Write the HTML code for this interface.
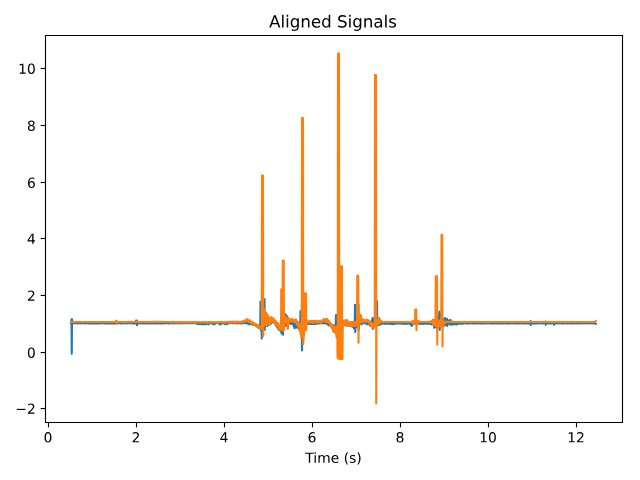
<!DOCTYPE html>
<html><head><meta charset="utf-8"><title>Aligned Signals</title>
<style>html,body{margin:0;padding:0;background:#fff;width:640px;height:480px;overflow:hidden;font-family:"Liberation Sans",sans-serif;}svg{display:block}</style>
</head><body>
<svg width="640" height="480" viewBox="0 0 460.8 345.6" version="1.1">
 <defs>
  <style type="text/css">*{stroke-linejoin: round; stroke-linecap: butt}</style>
 </defs>
 <g id="figure_1">
  <g id="patch_1">
   <path d="M 0 345.6 
L 460.8 345.6 
L 460.8 0 
L 0 0 
z
" style="fill: #ffffff"/>
  </g>
  <g id="axes_1">
   <g id="patch_2">
    <path d="M 32.76 304.2 
L 448.2 304.2 
L 448.2 25.56 
L 32.76 25.56 
z
" style="fill: #ffffff"/>
   </g>
   <g id="matplotlib.axis_1">
    <g id="xtick_1">
     <g id="line2d_1">
      <defs>
       <path id="me6ac03247e" d="M 0 0 
L 0 3.5 
" style="stroke: #000000; stroke-width: 0.8"/>
      </defs>
      <g>
       <use href="#me6ac03247e" x="34.92" y="304.2" style="stroke: #000000; stroke-width: 0.8"/>
      </g>
     </g>
     <g id="text_1">
      <!-- 0 -->
      <g transform="translate(31.3788 318.4984) scale(0.1 -0.1)">
       <defs>
        <path id="DejaVuSans-30" d="M 2034 4250 
Q 1547 4250 1301 3770 
Q 1056 3291 1056 2328 
Q 1056 1369 1301 889 
Q 1547 409 2034 409 
Q 2525 409 2770 889 
Q 3016 1369 3016 2328 
Q 3016 3291 2770 3770 
Q 2525 4250 2034 4250 
z
M 2034 4750 
Q 2819 4750 3233 4129 
Q 3647 3509 3647 2328 
Q 3647 1150 3233 529 
Q 2819 -91 2034 -91 
Q 1250 -91 836 529 
Q 422 1150 422 2328 
Q 422 3509 836 4129 
Q 1250 4750 2034 4750 
z
" transform="scale(0.015625)"/>
       </defs>
       <use href="#DejaVuSans-30"/>
      </g>
     </g>
    </g>
    <g id="xtick_2">
     <g id="line2d_2">
      <g>
       <use href="#me6ac03247e" x="98.28" y="304.2" style="stroke: #000000; stroke-width: 0.8"/>
      </g>
     </g>
     <g id="text_2">
      <!-- 2 -->
      <g transform="translate(94.7387 318.4984) scale(0.1 -0.1)">
       <defs>
        <path id="DejaVuSans-32" d="M 1228 531 
L 3431 531 
L 3431 0 
L 469 0 
L 469 531 
Q 828 903 1448 1529 
Q 2069 2156 2228 2338 
Q 2531 2678 2651 2914 
Q 2772 3150 2772 3378 
Q 2772 3750 2511 3984 
Q 2250 4219 1831 4219 
Q 1534 4219 1204 4116 
Q 875 4013 500 3803 
L 500 4441 
Q 881 4594 1212 4672 
Q 1544 4750 1819 4750 
Q 2544 4750 2975 4387 
Q 3406 4025 3406 3419 
Q 3406 3131 3298 2873 
Q 3191 2616 2906 2266 
Q 2828 2175 2409 1742 
Q 1991 1309 1228 531 
z
" transform="scale(0.015625)"/>
       </defs>
       <use href="#DejaVuSans-32"/>
      </g>
     </g>
    </g>
    <g id="xtick_3">
     <g id="line2d_3">
      <g>
       <use href="#me6ac03247e" x="161.64" y="304.2" style="stroke: #000000; stroke-width: 0.8"/>
      </g>
     </g>
     <g id="text_3">
      <!-- 4 -->
      <g transform="translate(158.0987 318.4984) scale(0.1 -0.1)">
       <defs>
        <path id="DejaVuSans-34" d="M 2419 4116 
L 825 1625 
L 2419 1625 
L 2419 4116 
z
M 2253 4666 
L 3047 4666 
L 3047 1625 
L 3713 1625 
L 3713 1100 
L 3047 1100 
L 3047 0 
L 2419 0 
L 2419 1100 
L 313 1100 
L 313 1709 
L 2253 4666 
z
" transform="scale(0.015625)"/>
       </defs>
       <use href="#DejaVuSans-34"/>
      </g>
     </g>
    </g>
    <g id="xtick_4">
     <g id="line2d_4">
      <g>
       <use href="#me6ac03247e" x="225" y="304.2" style="stroke: #000000; stroke-width: 0.8"/>
      </g>
     </g>
     <g id="text_4">
      <!-- 6 -->
      <g transform="translate(221.4587 318.4984) scale(0.1 -0.1)">
       <defs>
        <path id="DejaVuSans-36" d="M 2113 2584 
Q 1688 2584 1439 2293 
Q 1191 2003 1191 1497 
Q 1191 994 1439 701 
Q 1688 409 2113 409 
Q 2538 409 2786 701 
Q 3034 994 3034 1497 
Q 3034 2003 2786 2293 
Q 2538 2584 2113 2584 
z
M 3366 4563 
L 3366 3988 
Q 3128 4100 2886 4159 
Q 2644 4219 2406 4219 
Q 1781 4219 1451 3797 
Q 1122 3375 1075 2522 
Q 1259 2794 1537 2939 
Q 1816 3084 2150 3084 
Q 2853 3084 3261 2657 
Q 3669 2231 3669 1497 
Q 3669 778 3244 343 
Q 2819 -91 2113 -91 
Q 1303 -91 875 529 
Q 447 1150 447 2328 
Q 447 3434 972 4092 
Q 1497 4750 2381 4750 
Q 2619 4750 2861 4703 
Q 3103 4656 3366 4563 
z
" transform="scale(0.015625)"/>
       </defs>
       <use href="#DejaVuSans-36"/>
      </g>
     </g>
    </g>
    <g id="xtick_5">
     <g id="line2d_5">
      <g>
       <use href="#me6ac03247e" x="288.36" y="304.2" style="stroke: #000000; stroke-width: 0.8"/>
      </g>
     </g>
     <g id="text_5">
      <!-- 8 -->
      <g transform="translate(284.8187 318.4984) scale(0.1 -0.1)">
       <defs>
        <path id="DejaVuSans-38" d="M 2034 2216 
Q 1584 2216 1326 1975 
Q 1069 1734 1069 1313 
Q 1069 891 1326 650 
Q 1584 409 2034 409 
Q 2484 409 2743 651 
Q 3003 894 3003 1313 
Q 3003 1734 2745 1975 
Q 2488 2216 2034 2216 
z
M 1403 2484 
Q 997 2584 770 2862 
Q 544 3141 544 3541 
Q 544 4100 942 4425 
Q 1341 4750 2034 4750 
Q 2731 4750 3128 4425 
Q 3525 4100 3525 3541 
Q 3525 3141 3298 2862 
Q 3072 2584 2669 2484 
Q 3125 2378 3379 2068 
Q 3634 1759 3634 1313 
Q 3634 634 3220 271 
Q 2806 -91 2034 -91 
Q 1263 -91 848 271 
Q 434 634 434 1313 
Q 434 1759 690 2068 
Q 947 2378 1403 2484 
z
M 1172 3481 
Q 1172 3119 1398 2916 
Q 1625 2713 2034 2713 
Q 2441 2713 2670 2916 
Q 2900 3119 2900 3481 
Q 2900 3844 2670 4047 
Q 2441 4250 2034 4250 
Q 1625 4250 1398 4047 
Q 1172 3844 1172 3481 
z
" transform="scale(0.015625)"/>
       </defs>
       <use href="#DejaVuSans-38"/>
      </g>
     </g>
    </g>
    <g id="xtick_6">
     <g id="line2d_6">
      <g>
       <use href="#me6ac03247e" x="351.72" y="304.2" style="stroke: #000000; stroke-width: 0.8"/>
      </g>
     </g>
     <g id="text_6">
      <!-- 10 -->
      <g transform="translate(344.9975 318.4984) scale(0.1 -0.1)">
       <defs>
        <path id="DejaVuSans-31" d="M 794 531 
L 1825 531 
L 1825 4091 
L 703 3866 
L 703 4441 
L 1819 4666 
L 2450 4666 
L 2450 531 
L 3481 531 
L 3481 0 
L 794 0 
L 794 531 
z
" transform="scale(0.015625)"/>
       </defs>
       <use href="#DejaVuSans-31"/>
       <use href="#DejaVuSans-30" transform="translate(63.623047 0)"/>
      </g>
     </g>
    </g>
    <g id="xtick_7">
     <g id="line2d_7">
      <g>
       <use href="#me6ac03247e" x="415.08" y="304.2" style="stroke: #000000; stroke-width: 0.8"/>
      </g>
     </g>
     <g id="text_7">
      <!-- 12 -->
      <g transform="translate(408.3575 318.4984) scale(0.1 -0.1)">
       <use href="#DejaVuSans-31"/>
       <use href="#DejaVuSans-32" transform="translate(63.623047 0)"/>
      </g>
     </g>
    </g>
    <g id="text_8">
     <!-- Time (s) -->
     <g transform="translate(219.7911 333.1966) scale(0.1 -0.1)">
      <defs>
       <path id="DejaVuSans-54" d="M -19 4666 
L 3928 4666 
L 3928 4134 
L 2272 4134 
L 2272 0 
L 1638 0 
L 1638 4134 
L -19 4134 
L -19 4666 
z
" transform="scale(0.015625)"/>
       <path id="DejaVuSans-69" d="M 603 3500 
L 1178 3500 
L 1178 0 
L 603 0 
L 603 3500 
z
M 603 4863 
L 1178 4863 
L 1178 4134 
L 603 4134 
L 603 4863 
z
" transform="scale(0.015625)"/>
       <path id="DejaVuSans-6d" d="M 3328 2828 
Q 3544 3216 3844 3400 
Q 4144 3584 4550 3584 
Q 5097 3584 5394 3201 
Q 5691 2819 5691 2113 
L 5691 0 
L 5113 0 
L 5113 2094 
Q 5113 2597 4934 2840 
Q 4756 3084 4391 3084 
Q 3944 3084 3684 2787 
Q 3425 2491 3425 1978 
L 3425 0 
L 2847 0 
L 2847 2094 
Q 2847 2600 2669 2842 
Q 2491 3084 2119 3084 
Q 1678 3084 1418 2786 
Q 1159 2488 1159 1978 
L 1159 0 
L 581 0 
L 581 3500 
L 1159 3500 
L 1159 2956 
Q 1356 3278 1631 3431 
Q 1906 3584 2284 3584 
Q 2666 3584 2933 3390 
Q 3200 3197 3328 2828 
z
" transform="scale(0.015625)"/>
       <path id="DejaVuSans-65" d="M 3597 1894 
L 3597 1613 
L 953 1613 
Q 991 1019 1311 708 
Q 1631 397 2203 397 
Q 2534 397 2845 478 
Q 3156 559 3463 722 
L 3463 178 
Q 3153 47 2828 -22 
Q 2503 -91 2169 -91 
Q 1331 -91 842 396 
Q 353 884 353 1716 
Q 353 2575 817 3079 
Q 1281 3584 2069 3584 
Q 2775 3584 3186 3129 
Q 3597 2675 3597 1894 
z
M 3022 2063 
Q 3016 2534 2758 2815 
Q 2500 3097 2075 3097 
Q 1594 3097 1305 2825 
Q 1016 2553 972 2059 
L 3022 2063 
z
" transform="scale(0.015625)"/>
       <path id="DejaVuSans-20" transform="scale(0.015625)"/>
       <path id="DejaVuSans-28" d="M 1984 4856 
Q 1566 4138 1362 3434 
Q 1159 2731 1159 2009 
Q 1159 1288 1364 580 
Q 1569 -128 1984 -844 
L 1484 -844 
Q 1016 -109 783 600 
Q 550 1309 550 2009 
Q 550 2706 781 3412 
Q 1013 4119 1484 4856 
L 1984 4856 
z
" transform="scale(0.015625)"/>
       <path id="DejaVuSans-73" d="M 2834 3397 
L 2834 2853 
Q 2591 2978 2328 3040 
Q 2066 3103 1784 3103 
Q 1356 3103 1142 2972 
Q 928 2841 928 2578 
Q 928 2378 1081 2264 
Q 1234 2150 1697 2047 
L 1894 2003 
Q 2506 1872 2764 1633 
Q 3022 1394 3022 966 
Q 3022 478 2636 193 
Q 2250 -91 1575 -91 
Q 1294 -91 989 -36 
Q 684 19 347 128 
L 347 722 
Q 666 556 975 473 
Q 1284 391 1588 391 
Q 1994 391 2212 530 
Q 2431 669 2431 922 
Q 2431 1156 2273 1281 
Q 2116 1406 1581 1522 
L 1381 1569 
Q 847 1681 609 1914 
Q 372 2147 372 2553 
Q 372 3047 722 3315 
Q 1072 3584 1716 3584 
Q 2034 3584 2315 3537 
Q 2597 3491 2834 3397 
z
" transform="scale(0.015625)"/>
       <path id="DejaVuSans-29" d="M 513 4856 
L 1013 4856 
Q 1481 4119 1714 3412 
Q 1947 2706 1947 2009 
Q 1947 1309 1714 600 
Q 1481 -109 1013 -844 
L 513 -844 
Q 928 -128 1133 580 
Q 1338 1288 1338 2009 
Q 1338 2731 1133 3434 
Q 928 4138 513 4856 
z
" transform="scale(0.015625)"/>
      </defs>
      <use href="#DejaVuSans-54"/>
      <use href="#DejaVuSans-69" transform="translate(57.958984 0)"/>
      <use href="#DejaVuSans-6d" transform="translate(85.742188 0)"/>
      <use href="#DejaVuSans-65" transform="translate(183.154297 0)"/>
      <use href="#DejaVuSans-20" transform="translate(244.677734 0)"/>
      <use href="#DejaVuSans-28" transform="translate(276.464844 0)"/>
      <use href="#DejaVuSans-73" transform="translate(315.478516 0)"/>
      <use href="#DejaVuSans-29" transform="translate(367.578125 0)"/>
     </g>
    </g>
   </g>
   <g id="matplotlib.axis_2">
    <g id="ytick_1">
     <g id="line2d_8">
      <defs>
       <path id="m37b0a51731" d="M 0 0 
L -3.5 0 
" style="stroke: #000000; stroke-width: 0.8"/>
      </defs>
      <g>
       <use href="#m37b0a51731" x="32.76" y="294.1200" style="stroke: #000000; stroke-width: 0.8"/>
      </g>
     </g>
     <g id="text_9">
      <!-- −2 -->
      <g transform="translate(11.0178 297.9192) scale(0.1 -0.1)">
       <defs>
        <path id="DejaVuSans-2212" d="M 678 2272 
L 4684 2272 
L 4684 1741 
L 678 1741 
L 678 2272 
z
" transform="scale(0.015625)"/>
       </defs>
       <use href="#DejaVuSans-2212"/>
       <use href="#DejaVuSans-32" transform="translate(83.789062 0)"/>
      </g>
     </g>
    </g>
    <g id="ytick_2">
     <g id="line2d_9">
      <g>
       <use href="#m37b0a51731" x="32.76" y="253.8000" style="stroke: #000000; stroke-width: 0.8"/>
      </g>
     </g>
     <g id="text_10">
      <!-- 0 -->
      <g transform="translate(19.3975 257.5992) scale(0.1 -0.1)">
       <use href="#DejaVuSans-30"/>
      </g>
     </g>
    </g>
    <g id="ytick_3">
     <g id="line2d_10">
      <g>
       <use href="#m37b0a51731" x="32.76" y="212.7600" style="stroke: #000000; stroke-width: 0.8"/>
      </g>
     </g>
     <g id="text_11">
      <!-- 2 -->
      <g transform="translate(19.3975 216.5592) scale(0.1 -0.1)">
       <use href="#DejaVuSans-32"/>
      </g>
     </g>
    </g>
    <g id="ytick_4">
     <g id="line2d_11">
      <g>
       <use href="#m37b0a51731" x="32.76" y="171.7200" style="stroke: #000000; stroke-width: 0.8"/>
      </g>
     </g>
     <g id="text_12">
      <!-- 4 -->
      <g transform="translate(19.3975 175.5192) scale(0.1 -0.1)">
       <use href="#DejaVuSans-34"/>
      </g>
     </g>
    </g>
    <g id="ytick_5">
     <g id="line2d_12">
      <g>
       <use href="#m37b0a51731" x="32.76" y="131.4000" style="stroke: #000000; stroke-width: 0.8"/>
      </g>
     </g>
     <g id="text_13">
      <!-- 6 -->
      <g transform="translate(19.3975 135.1992) scale(0.1 -0.1)">
       <use href="#DejaVuSans-36"/>
      </g>
     </g>
    </g>
    <g id="ytick_6">
     <g id="line2d_13">
      <g>
       <use href="#m37b0a51731" x="32.76" y="90.3600" style="stroke: #000000; stroke-width: 0.8"/>
      </g>
     </g>
     <g id="text_14">
      <!-- 8 -->
      <g transform="translate(19.3975 94.1592) scale(0.1 -0.1)">
       <use href="#DejaVuSans-38"/>
      </g>
     </g>
    </g>
    <g id="ytick_7">
     <g id="line2d_14">
      <g>
       <use href="#m37b0a51731" x="32.76" y="49.3200" style="stroke: #000000; stroke-width: 0.8"/>
      </g>
     </g>
     <g id="text_15">
      <!-- 10 -->
      <g transform="translate(13.0350 53.1192) scale(0.1 -0.1)">
       <use href="#DejaVuSans-31"/>
       <use href="#DejaVuSans-30" transform="translate(63.623047 0)"/>
      </g>
     </g>
    </g>
   </g>
   <g id="line2d_15">
    <path d="M 51.12 232.640381 
L 51.3 232.573511 
L 51.48 229.896 
L 51.66 254.736 
L 51.84 229.896 
L 52.02 232.826805 
L 52.2 232.566003 
L 52.56 232.759369 
L 52.74 232.7798 
L 53.1 232.562121 
L 53.46 232.652375 
L 53.82 232.625025 
L 54 232.755545 
L 54.36 232.615957 
L 55.98 232.836926 
L 56.16 232.726422 
L 56.34 232.768476 
L 56.52 232.666455 
L 56.88 232.838746 
L 57.24 232.687936 
L 57.42 232.760177 
L 58.14 232.601571 
L 58.32 232.840297 
L 59.22 232.641026 
L 59.4 232.722125 
L 59.58 232.592882 
L 59.76 232.67255 
L 60.3 232.597608 
L 60.48 232.59762 
L 60.66 232.819791 
L 60.84 232.616359 
L 61.02 232.594926 
L 61.2 232.820752 
L 61.56 232.791112 
L 61.74 232.583 
L 63 232.690805 
L 63.36 232.589711 
L 63.72 232.809226 
L 64.08 232.636331 
L 64.26 232.818288 
L 64.62 232.748818 
L 64.8 232.853267 
L 65.16 232.597798 
L 65.34 232.785331 
L 65.52 232.654356 
L 65.7 232.817057 
L 66.42 232.568875 
L 66.6 232.87944 
L 66.78 232.569962 
L 66.96 232.577025 
L 67.32 232.868905 
L 67.5 232.738675 
L 67.68 232.887895 
L 67.86 232.796921 
L 68.58 232.882429 
L 68.76 232.669183 
L 68.94 232.79637 
L 69.12 232.729885 
L 69.3 232.887509 
L 69.84 232.571342 
L 70.02 232.805263 
L 70.2 232.564268 
L 70.38 232.778807 
L 70.56 232.649525 
L 70.92 232.895998 
L 71.1 232.678221 
L 71.46 232.749238 
L 71.64 232.615477 
L 71.82 232.811683 
L 72.18 232.823817 
L 72.54 232.583228 
L 72.72 232.6952 
L 72.9 232.600311 
L 73.08 232.655292 
L 73.26 232.565851 
L 73.44 232.698869 
L 74.34 232.711171 
L 74.52 232.787493 
L 74.7 232.672975 
L 75.06 232.840255 
L 75.24 232.743705 
L 75.42 232.884687 
L 75.78 232.755761 
L 75.96 232.58944 
L 76.14 232.725057 
L 76.32 232.572152 
L 76.5 232.89742 
L 76.68 232.576318 
L 77.04 232.624827 
L 77.22 232.865679 
L 77.76 232.864086 
L 77.94 232.652916 
L 78.12 232.879857 
L 78.3 232.596177 
L 78.48 232.670811 
L 78.66 232.86813 
L 78.84 232.808082 
L 79.2 232.865528 
L 79.38 232.635995 
L 79.56 232.710646 
L 79.74 232.916008 
L 79.92 232.813076 
L 80.1 232.845806 
L 80.28 232.589821 
L 80.46 232.903351 
L 80.82 232.615296 
L 81.18 232.88954 
L 81.36 232.756014 
L 81.54 232.917524 
L 81.72 232.893911 
L 81.9 232.738982 
L 82.08 232.90815 
L 82.8 232.569804 
L 83.16 232.831786 
L 83.34 232.607074 
L 83.52 232.632691 
L 83.7 232.910577 
L 84.06 232.676376 
L 84.24 232.89936 
L 84.6 232.651416 
L 85.68 232.783332 
L 86.58 232.593967 
L 86.76 232.811721 
L 86.94 232.565729 
L 87.12 232.824031 
L 87.84 232.902848 
L 88.02 232.697679 
L 88.38 232.66404 
L 88.56 232.56369 
L 88.92 232.739636 
L 89.1 232.727004 
L 89.28 232.573082 
L 89.82 232.707382 
L 90 232.63391 
L 90.36 232.66343 
L 90.54 232.599022 
L 90.72 232.875464 
L 90.9 232.778822 
L 91.08 232.914018 
L 91.26 232.777208 
L 92.7 232.798496 
L 93.06 232.592785 
L 93.6 232.730945 
L 93.96 232.654003 
L 94.32 232.757162 
L 94.5 232.592188 
L 95.04 232.861103 
L 95.22 232.745765 
L 95.4 232.901993 
L 95.94 232.608649 
L 96.12 232.741961 
L 96.3 232.572786 
L 96.48 232.800698 
L 96.66 232.677048 
L 96.84 232.876729 
L 97.2 232.384009 
L 97.38 232.638974 
L 97.56 232.2952 
L 97.74 232.845408 
L 97.92 230.76 
L 98.46 230.76 
L 98.64 234.216 
L 99 232.821979 
L 99.18 232.919368 
L 99.54 232.624488 
L 100.08 232.706065 
L 100.26 232.560509 
L 100.44 232.756191 
L 100.8 232.800248 
L 100.98 232.564367 
L 101.16 232.873601 
L 101.52 232.682373 
L 101.7 232.655832 
L 101.88 232.857078 
L 102.06 232.645934 
L 102.24 232.657917 
L 102.42 232.869861 
L 102.78 232.565348 
L 102.96 232.59119 
L 103.14 232.818098 
L 103.5 232.655096 
L 103.68 232.651132 
L 103.86 232.89439 
L 104.04 232.71846 
L 104.22 232.865464 
L 104.94 232.650567 
L 105.12 232.836588 
L 105.48 232.601277 
L 106.02 232.709979 
L 106.2 232.891242 
L 106.74 232.553003 
L 107.1 232.64163 
L 107.28 232.693426 
L 107.46 232.866093 
L 107.64 232.549658 
L 107.82 232.790668 
L 108.18 232.616941 
L 108.36 232.858659 
L 108.54 232.664906 
L 108.72 232.828157 
L 108.9 232.625027 
L 109.44 232.835539 
L 109.8 232.599417 
L 109.98 232.758312 
L 110.16 232.752639 
L 110.34 232.538432 
L 110.7 232.859444 
L 110.88 232.608308 
L 111.24 232.848311 
L 111.42 232.656294 
L 111.78 232.839127 
L 111.96 232.533224 
L 112.5 232.841017 
L 112.86 232.557086 
L 113.04 232.649373 
L 113.22 232.60928 
L 113.4 232.868788 
L 113.76 232.815786 
L 113.94 232.548175 
L 114.3 232.666387 
L 114.48 232.623139 
L 114.66 232.825317 
L 114.84 232.669588 
L 115.02 232.780314 
L 115.56 232.535059 
L 115.74 232.810819 
L 116.1 232.527469 
L 116.28 232.672634 
L 116.46 232.516203 
L 116.82 232.821885 
L 117 232.621912 
L 117.9 232.632232 
L 118.08 232.801082 
L 118.26 232.662254 
L 118.44 232.794559 
L 118.8 232.618294 
L 119.16 232.514861 
L 119.34 232.69571 
L 119.7 232.54123 
L 120.06 232.745781 
L 120.24 232.713459 
L 120.42 232.493 
L 120.78 232.726678 
L 121.14 232.641784 
L 121.32 232.767031 
L 121.5 232.53792 
L 121.68 232.543202 
L 122.04 232.811641 
L 122.22 232.538923 
L 122.4 232.500134 
L 122.58 232.772589 
L 123.12 232.493482 
L 123.3 232.674146 
L 123.48 232.530486 
L 123.66 232.798837 
L 124.2 232.826907 
L 124.56 232.514212 
L 124.74 232.702501 
L 124.92 232.558275 
L 125.1 232.720053 
L 125.28 232.495423 
L 125.82 232.804453 
L 126 232.49735 
L 126.36 232.805884 
L 126.54 232.483992 
L 126.9 232.732579 
L 127.08 232.63545 
L 127.26 232.769028 
L 127.62 232.571021 
L 127.8 232.46937 
L 128.16 232.811824 
L 128.34 232.787201 
L 128.52 232.457961 
L 128.88 232.477515 
L 129.06 232.765069 
L 129.42 232.553927 
L 129.6 232.721303 
L 129.78 232.574939 
L 130.14 232.703146 
L 130.32 232.772741 
L 130.5 232.51466 
L 130.86 232.521127 
L 131.04 232.7888 
L 131.22 232.649646 
L 131.4 232.743019 
L 131.58 232.515147 
L 131.76 232.75728 
L 131.94 232.55309 
L 132.12 232.668287 
L 132.3 232.52238 
L 132.66 232.714382 
L 132.84 232.506078 
L 133.02 232.788985 
L 134.46 232.557244 
L 134.64 232.712452 
L 134.82 232.497263 
L 135 232.461639 
L 135.18 232.7251 
L 135.36 232.769395 
L 135.72 232.509903 
L 135.9 232.750426 
L 136.08 232.451651 
L 136.62 232.692551 
L 136.8 232.702925 
L 136.98 232.601095 
L 137.16 232.680754 
L 137.34 232.536223 
L 137.52 232.737664 
L 138.78 232.448963 
L 138.96 232.751201 
L 139.5 232.718984 
L 139.68 232.731305 
L 139.86 232.546646 
L 140.04 232.65954 
L 140.22 232.464039 
L 140.4 232.433809 
L 140.58 232.69445 
L 140.76 232.49446 
L 141.48 232.696078 
L 141.66 232.613564 
L 141.84 232.707156 
L 142.02 232.50568 
L 142.2 233.496 
L 142.38 233.496 
L 142.56 232.63046 
L 142.74 232.537025 
L 142.92 232.771817 
L 143.1 232.614819 
L 143.46 232.683091 
L 143.64 233.496 
L 143.82 233.496 
L 144 232.488505 
L 144.18 232.579343 
L 144.54 232.490563 
L 144.9 232.704794 
L 145.08 233.496 
L 145.26 233.496 
L 145.44 232.487152 
L 145.8 232.419338 
L 145.98 232.548029 
L 146.16 233.496 
L 146.34 233.496 
L 146.52 232.463311 
L 146.7 232.641633 
L 146.88 232.616633 
L 147.06 232.745009 
L 147.24 233.496 
L 147.42 233.496 
L 147.6 232.612916 
L 147.96 232.430806 
L 148.14 232.614045 
L 148.32 233.496 
L 148.5 233.496 
L 148.68 232.41779 
L 149.4 232.665586 
L 149.58 232.512214 
L 149.76 232.726571 
L 149.94 232.462176 
L 150.12 233.496 
L 150.3 233.496 
L 150.48 232.442385 
L 150.66 232.6878 
L 150.84 232.446156 
L 151.02 232.473146 
L 151.38 232.712941 
L 151.56 232.638061 
L 151.74 232.774673 
L 151.92 232.771055 
L 152.1 232.469886 
L 152.46 232.584975 
L 152.64 232.483191 
L 153 232.729172 
L 153.18 232.682153 
L 153.36 233.496 
L 153.54 233.496 
L 153.72 232.619723 
L 153.9 232.479789 
L 154.26 232.750928 
L 154.44 233.496 
L 154.62 233.496 
L 154.8 232.681908 
L 154.98 232.737726 
L 155.16 232.449132 
L 155.34 232.687279 
L 155.52 232.738372 
L 155.7 232.491045 
L 156.6 232.622372 
L 157.14 232.527834 
L 157.68 232.770867 
L 157.86 232.553621 
L 158.04 233.496 
L 158.22 233.496 
L 158.4 232.759266 
L 158.76 232.66319 
L 158.94 232.550846 
L 159.12 233.496 
L 159.3 233.496 
L 159.48 232.651805 
L 160.02 232.699217 
L 160.2 232.456564 
L 160.38 232.602376 
L 160.92 232.583745 
L 161.1 232.633684 
L 161.46 232.419833 
L 161.64 233.496 
L 161.82 233.496 
L 162 232.568705 
L 162.72 232.707658 
L 162.9 232.470382 
L 163.08 232.640566 
L 163.26 232.604364 
L 163.44 233.496 
L 163.62 233.496 
L 163.8 232.709076 
L 163.98 232.67373 
L 164.16 232.472815 
L 164.52 232.737691 
L 164.7 232.604353 
L 165.42 232.73255 
L 165.6 232.507908 
L 166.32 232.536522 
L 166.5 232.601555 
L 166.68 232.481233 
L 167.04 232.603527 
L 167.22 232.532229 
L 167.4 232.723648 
L 167.58 232.610423 
L 168.3 232.669958 
L 168.48 232.4181 
L 168.66 232.672589 
L 169.02 232.515485 
L 169.2 232.66113 
L 169.38 232.487725 
L 169.56 232.717368 
L 169.74 232.735662 
L 169.92 232.473063 
L 170.1 232.479256 
L 170.28 232.803232 
L 170.46 232.428852 
L 170.64 232.753604 
L 171 232.716656 
L 171.18 232.430527 
L 171.36 232.82287 
L 171.54 232.495442 
L 171.72 232.784021 
L 172.08 232.522858 
L 172.44 232.356654 
L 172.62 232.453422 
L 172.98 232.322107 
L 173.34 232.796729 
L 173.52 232.553073 
L 173.88 232.781823 
L 174.06 232.297603 
L 174.24 232.475996 
L 174.6 232.361309 
L 174.78 232.618951 
L 175.14 232.298236 
L 175.32 232.761795 
L 175.5 232.271928 
L 175.68 232.230406 
L 175.86 232.669373 
L 176.04 232.469243 
L 176.22 232.617011 
L 176.4 232.219005 
L 176.94 232.421208 
L 177.12 232.561024 
L 177.48 232.362569 
L 177.66 232.876288 
L 177.84 232.295542 
L 178.02 232.612866 
L 178.2 232.453093 
L 178.38 232.954379 
L 178.56 232.858341 
L 178.74 232.912602 
L 178.92 232.812545 
L 179.1 232.881714 
L 179.28 233.393248 
L 179.46 232.952698 
L 179.64 233.21172 
L 179.82 232.742941 
L 180.18 233.451984 
L 180.36 233.220469 
L 180.54 233.50586 
L 180.72 233.48569 
L 180.9 232.990154 
L 181.08 233.383772 
L 181.26 232.986515 
L 181.44 233.081488 
L 181.62 233.694495 
L 181.8 233.282989 
L 181.98 233.150741 
L 182.34 233.885987 
L 182.52 233.505794 
L 182.7 233.457556 
L 182.88 233.542183 
L 183.06 233.369966 
L 183.24 233.431576 
L 183.42 233.915553 
L 183.6 233.69946 
L 183.78 233.968515 
L 183.96 234.531359 
L 184.14 234.461752 
L 184.32 234.532866 
L 184.5 234.761216 
L 185.04 234.088003 
L 185.22 234.977699 
L 185.4 234.320086 
L 185.58 234.661369 
L 185.76 234.730403 
L 185.94 235.716102 
L 186.12 235.735935 
L 186.3 234.988976 
L 186.48 235.259647 
L 186.66 235.30515 
L 186.84 234.120249 
L 187.02 233.698845 
L 187.2 235.328756 
L 187.38 234.990982 
L 187.56 217.152 
L 187.74 237.6 
L 187.92 232.636784 
L 188.1 237.2917 
L 188.28 231.528736 
L 188.46 243.792 
L 188.64 229.40418 
L 188.82 231.797069 
L 189 236.362432 
L 189.18 227.577359 
L 189.36 225.309101 
L 189.54 227.951158 
L 189.72 228.94966 
L 189.9 237.055431 
L 190.08 227.440399 
L 190.26 232.998438 
L 190.44 215.28 
L 190.62 237.6 
L 190.8 227.399529 
L 190.98 233.82451 
L 191.34 227.710671 
L 191.52 230.776927 
L 191.7 230.365586 
L 191.88 233.774738 
L 192.06 233.61318 
L 192.24 230.920628 
L 192.42 234.878482 
L 192.6 229.383391 
L 192.78 234.402495 
L 192.96 229.797053 
L 193.14 232.3929 
L 193.32 231.672168 
L 193.5 233.863044 
L 193.86 231.054682 
L 194.04 233.272587 
L 194.22 231.536602 
L 194.4 231.669829 
L 194.58 233.353124 
L 194.76 231.218806 
L 195.12 232.882623 
L 195.3 232.804964 
L 195.48 232.141097 
L 195.66 232.107609 
L 195.84 229.988403 
L 196.02 231.348405 
L 196.2 231.402153 
L 196.38 230.060982 
L 196.56 231.918613 
L 196.74 231.62352 
L 196.92 230.318497 
L 197.46 231.010115 
L 197.64 232.564617 
L 197.82 231.247271 
L 198 232.444447 
L 198.18 232.261242 
L 198.36 233.715169 
L 198.54 234.160293 
L 198.9 234.199196 
L 199.08 234.269064 
L 199.26 235.281514 
L 199.8 233.353267 
L 200.16 236.564481 
L 200.34 236.431086 
L 200.52 236.612751 
L 200.7 237.13081 
L 200.88 234.348423 
L 201.06 237.885847 
L 201.24 234.497336 
L 201.42 237.017742 
L 201.6 236.57469 
L 201.78 235.49295 
L 201.96 237.679687 
L 202.14 235.785727 
L 202.32 235.673055 
L 202.5 238.921249 
L 202.68 239.972382 
L 202.86 238.057617 
L 203.04 239.992308 
L 203.22 240.256666 
L 203.58 236.078635 
L 203.76 240.912 
L 203.94 233.435848 
L 204.12 232.589269 
L 204.3 235.322253 
L 204.48 236.090042 
L 204.66 230.90162 
L 204.84 231.063104 
L 205.02 228.13507 
L 205.2 228.408015 
L 205.38 226.08 
L 205.56 227.721041 
L 205.74 226.660557 
L 205.92 233.847349 
L 206.1 234.712439 
L 206.28 228.041813 
L 206.46 229.947318 
L 206.64 227.776037 
L 206.82 230.709606 
L 207 229.118218 
L 207.18 231.571998 
L 207.36 231.979219 
L 207.54 231.990136 
L 207.72 230.302853 
L 207.9 232.120793 
L 208.08 232.290254 
L 208.26 230.84239 
L 208.44 232.79647 
L 208.62 231.105899 
L 208.98 230.675981 
L 209.16 233.066443 
L 209.34 233.208072 
L 209.52 232.674086 
L 209.7 231.249062 
L 209.88 230.933074 
L 210.06 232.976465 
L 210.24 233.055461 
L 210.42 232.804886 
L 210.6 230.570015 
L 210.78 230.911252 
L 210.96 232.83381 
L 211.14 230.857586 
L 211.32 234.14621 
L 211.5 235.014608 
L 211.68 235.220449 
L 211.86 234.748076 
L 212.04 236.16 
L 212.22 231.61473 
L 212.4 236.053654 
L 212.76 231.898481 
L 212.94 231.502458 
L 213.12 232.125618 
L 213.3 235.620972 
L 213.48 233.133144 
L 213.84 235.904455 
L 214.02 233.605403 
L 214.2 235.896409 
L 214.38 235.721877 
L 214.56 232.997824 
L 214.74 232.430584 
L 214.92 236.202931 
L 215.1 235.980828 
L 215.28 236.011565 
L 215.46 234.761642 
L 215.64 237.552129 
L 215.82 232.050012 
L 216 236.428158 
L 216.18 235.976514 
L 216.36 223.92 
L 216.54 223.92 
L 216.72 237.6 
L 216.9 239.060567 
L 217.26 236.453723 
L 217.44 252.288 
L 217.8 231.802711 
L 217.98 236.510456 
L 218.16 233.124091 
L 218.52 235.809689 
L 218.7 236.143183 
L 218.88 237.035235 
L 219.06 236.782969 
L 219.24 235.011438 
L 219.42 230.221153 
L 219.78 233.678744 
L 219.96 234.191816 
L 220.14 230.140689 
L 220.5 233.703149 
L 220.86 233.250509 
L 221.04 231.446868 
L 221.22 232.068779 
L 221.4 233.280717 
L 221.76 233.248637 
L 221.94 233.020749 
L 222.12 233.029533 
L 222.3 232.633933 
L 222.48 233.029712 
L 222.66 232.643395 
L 222.84 233.143516 
L 223.38 232.544349 
L 223.74 232.548272 
L 223.92 233.20755 
L 224.1 232.734607 
L 224.28 232.905853 
L 224.46 232.543024 
L 224.64 233.190759 
L 224.82 233.27309 
L 225 232.860743 
L 225.18 233.23679 
L 225.36 233.254178 
L 225.54 232.999766 
L 225.72 232.539494 
L 225.9 232.986348 
L 226.08 232.573619 
L 226.26 233.189462 
L 226.44 233.186378 
L 226.62 232.571992 
L 226.98 233.006566 
L 227.16 232.623433 
L 227.34 233.144087 
L 227.52 232.854439 
L 227.7 232.936496 
L 227.88 232.738758 
L 228.06 232.989632 
L 228.42 232.90348 
L 228.6 232.530065 
L 228.96 232.374705 
L 229.14 232.845846 
L 229.32 232.252827 
L 229.5 232.42102 
L 229.68 232.155005 
L 230.04 232.886635 
L 230.4 232.086116 
L 230.76 232.615546 
L 230.94 232.150227 
L 231.12 232.470451 
L 231.48 231.991736 
L 231.66 232.705408 
L 231.84 232.204295 
L 232.02 232.080007 
L 232.2 232.562355 
L 232.74 231.829927 
L 232.92 232.903388 
L 233.28 232.018141 
L 233.46 232.194955 
L 233.64 231.886765 
L 233.82 232.493267 
L 234 232.630833 
L 234.18 231.426186 
L 234.36 232.853914 
L 234.54 231.437557 
L 234.9 233.009463 
L 235.08 232.4551 
L 235.26 230.893106 
L 235.62 233.090884 
L 235.8 231.167238 
L 236.34 232.504308 
L 236.52 234.306259 
L 236.7 231.948355 
L 236.88 232.349741 
L 237.06 233.827139 
L 237.24 232.443309 
L 237.42 234.107076 
L 237.6 234.310889 
L 237.78 234.229517 
L 237.96 233.979089 
L 238.14 234.283031 
L 238.32 234.119788 
L 238.5 234.346823 
L 238.86 234.373906 
L 239.04 233.983612 
L 239.22 235.782008 
L 239.4 236.189103 
L 239.76 236.139626 
L 240.12 238.695339 
L 240.3 234.256287 
L 240.48 236.334865 
L 240.66 236.821406 
L 240.84 234.617695 
L 241.2 236.807213 
L 241.38 234.282173 
L 241.56 237.114711 
L 241.74 234.638715 
L 241.92 226.8 
L 242.46 226.8 
L 242.64 240.48 
L 242.82 233.20798 
L 243 236.37523 
L 243.18 233.477987 
L 243.36 238.345466 
L 243.54 237.820648 
L 243.72 233.858861 
L 243.9 235.286232 
L 244.08 237.716509 
L 244.26 233.306477 
L 244.44 237.87048 
L 244.62 236.619338 
L 244.8 238.216794 
L 245.16 232.195969 
L 245.52 235.695635 
L 245.88 233.542827 
L 246.06 232.746554 
L 246.24 234.818574 
L 246.42 232.000774 
L 246.6 234.721069 
L 246.78 232.315168 
L 247.14 234.673073 
L 247.32 233.108933 
L 247.5 234.20108 
L 247.68 231.113928 
L 247.86 232.780836 
L 248.04 233.351256 
L 248.22 231.402878 
L 248.4 233.516752 
L 248.58 233.370512 
L 248.76 232.577294 
L 248.94 233.905078 
L 249.12 230.77267 
L 249.3 234.436624 
L 249.48 231.120236 
L 249.66 233.810226 
L 249.84 231.378756 
L 250.02 230.874166 
L 250.2 233.260265 
L 250.38 233.137326 
L 250.74 234.509201 
L 250.92 233.010579 
L 251.28 233.628682 
L 251.46 232.688347 
L 251.64 234.606971 
L 251.82 234.523366 
L 252 232.198747 
L 252.18 234.372121 
L 252.36 232.554376 
L 252.54 232.897727 
L 252.72 234.114137 
L 252.9 233.602841 
L 253.08 234.180475 
L 253.26 232.808051 
L 253.44 234.980168 
L 253.62 232.306602 
L 253.8 231.872659 
L 254.16 234.012101 
L 254.34 235.617059 
L 254.7 232.249477 
L 254.88 236.575468 
L 255.42 233.015634 
L 255.6 219.384 
L 255.78 239.04 
L 256.14 232.492593 
L 256.32 235.754523 
L 256.5 233.862449 
L 256.68 234.90722 
L 257.22 230.19234 
L 257.4 235.115017 
L 257.58 234.812733 
L 257.76 230.043473 
L 257.94 230.678318 
L 258.12 219.096 
L 258.3 237.6 
L 258.48 230.390975 
L 258.66 231.666992 
L 258.84 228.023285 
L 259.02 228.39675 
L 259.2 232.70942 
L 259.38 231.267004 
L 259.56 228.54579 
L 259.74 232.456145 
L 259.92 229.410066 
L 260.1 233.313653 
L 260.28 233.585466 
L 260.46 233.260396 
L 260.64 230.532258 
L 261 232.655666 
L 261.18 232.129787 
L 261.36 230.910048 
L 261.54 231.347107 
L 261.72 232.289572 
L 262.08 231.142477 
L 262.44 232.808056 
L 262.62 232.413414 
L 262.8 231.409454 
L 263.16 231.038463 
L 263.34 231.460783 
L 263.7 233.137231 
L 263.88 231.46928 
L 264.24 233.323982 
L 264.42 231.759709 
L 264.78 233.528684 
L 264.96 231.447311 
L 265.32 233.280619 
L 265.5 231.21375 
L 265.68 231.072177 
L 265.86 232.982138 
L 266.04 232.956827 
L 266.22 234.203682 
L 266.4 233.440546 
L 266.58 234.538305 
L 266.76 233.153198 
L 266.94 233.699031 
L 267.12 234.676643 
L 267.3 232.817685 
L 267.48 232.699046 
L 267.66 234.274375 
L 267.84 230.409812 
L 268.02 232.805427 
L 268.2 228.96 
L 268.38 236.88 
L 268.56 229.066659 
L 268.74 230.04121 
L 268.92 233.747064 
L 269.1 232.769118 
L 269.28 235.057258 
L 269.46 234.640546 
L 269.64 234.679557 
L 269.82 235.589617 
L 270 232.611753 
L 270.18 235.557437 
L 270.36 231.944869 
L 270.54 231.391136 
L 270.72 235.261072 
L 270.9 231.147619 
L 271.08 232.359411 
L 271.26 231.533647 
L 271.44 216.72 
L 271.62 234 
L 271.8 233.95063 
L 271.98 231.055001 
L 272.34 234.197082 
L 272.52 231.388403 
L 272.7 230.809037 
L 272.88 231.66976 
L 273.06 233.157538 
L 273.24 232.65432 
L 273.42 233.760049 
L 273.6 231.318081 
L 273.78 233.506015 
L 274.14 230.801128 
L 274.32 232.635617 
L 274.5 233.269823 
L 274.68 232.189194 
L 274.86 233.117058 
L 275.04 233.044344 
L 275.22 232.743776 
L 275.4 233.01147 
L 275.58 232.74738 
L 275.76 232.920935 
L 276.3 232.807606 
L 276.48 232.790886 
L 276.66 232.605726 
L 276.84 233.066281 
L 277.02 232.730334 
L 277.2 232.745618 
L 277.38 233.109361 
L 277.56 232.788988 
L 277.74 232.787898 
L 277.92 233.044633 
L 278.1 232.758991 
L 278.28 233.108963 
L 278.46 232.834208 
L 279 232.738714 
L 279.18 233.121523 
L 279.54 232.598693 
L 279.72 232.604861 
L 279.9 233.008733 
L 280.26 233.11286 
L 280.44 232.601584 
L 280.62 232.705278 
L 280.8 233.037698 
L 281.16 233.034713 
L 281.34 232.659139 
L 281.52 232.999577 
L 281.7 233.048397 
L 281.88 233.232695 
L 282.06 232.92914 
L 282.24 233.151868 
L 282.42 232.760542 
L 282.6 233.363926 
L 282.78 232.576673 
L 282.96 233.341882 
L 283.5 232.691914 
L 284.22 233.115177 
L 284.58 232.731452 
L 284.76 232.631725 
L 284.94 232.979315 
L 285.12 232.903148 
L 285.3 232.686286 
L 285.48 232.868316 
L 285.66 232.78645 
L 285.84 233.017414 
L 286.02 232.608452 
L 286.92 232.901329 
L 287.28 232.756963 
L 287.46 232.954563 
L 287.64 232.890002 
L 287.82 232.632079 
L 288.18 232.908545 
L 288.54 232.824727 
L 288.72 232.667438 
L 288.9 233.037874 
L 289.08 232.863712 
L 289.44 233.058451 
L 289.62 232.58645 
L 289.8 232.629321 
L 289.98 232.980787 
L 290.16 232.618898 
L 290.34 232.563051 
L 290.52 233.123137 
L 290.7 232.586954 
L 290.88 233.05576 
L 291.06 233.124769 
L 291.24 232.784766 
L 291.42 232.91761 
L 291.6 232.625427 
L 291.78 233.134132 
L 291.96 233.075346 
L 292.32 232.602832 
L 292.5 233.006903 
L 292.68 233.135721 
L 292.86 232.645013 
L 293.04 233.074977 
L 293.22 233.056459 
L 293.4 232.68162 
L 293.94 232.721695 
L 294.12 232.802374 
L 294.3 232.679584 
L 294.84 232.903864 
L 295.02 233.135605 
L 295.2 232.64787 
L 295.38 233.294493 
L 295.56 232.81733 
L 295.74 232.829502 
L 295.92 233.931547 
L 296.1 233.584461 
L 296.46 234.603662 
L 296.82 234.277874 
L 297 233.246294 
L 297.18 233.12934 
L 297.36 233.335817 
L 297.72 232.763215 
L 297.9 233.158397 
L 298.08 233.005926 
L 298.26 233.086427 
L 298.8 232.766732 
L 298.98 232.79186 
L 299.16 233.033906 
L 299.34 232.982396 
L 299.52 232.619154 
L 299.88 233.074763 
L 300.06 233.046431 
L 300.24 232.778273 
L 300.42 233.034657 
L 300.6 233.046142 
L 300.78 232.916964 
L 300.96 233.065057 
L 301.14 232.644047 
L 301.32 233.099745 
L 301.5 233.048177 
L 301.68 232.792749 
L 301.86 233.020414 
L 302.04 232.84977 
L 302.22 233.015654 
L 302.4 232.747472 
L 302.58 232.937891 
L 302.76 232.600233 
L 302.94 233.125021 
L 303.12 232.971386 
L 303.3 233.081842 
L 303.48 232.939011 
L 303.66 232.951825 
L 304.02 233.133743 
L 304.2 232.774276 
L 304.38 232.730581 
L 304.56 232.993004 
L 304.74 232.837476 
L 304.92 233.135714 
L 305.28 232.622445 
L 305.46 232.585322 
L 305.64 232.992068 
L 305.82 232.759256 
L 306 232.719511 
L 306.18 232.949225 
L 306.36 232.698999 
L 307.26 233.090311 
L 307.44 232.720841 
L 307.62 233.133758 
L 307.98 232.768802 
L 308.16 233.102084 
L 308.34 232.662044 
L 308.52 233.113483 
L 308.7 232.572629 
L 308.88 232.651938 
L 309.06 232.87163 
L 309.24 232.715845 
L 309.42 232.980018 
L 309.6 232.90112 
L 309.78 232.528789 
L 309.96 232.620326 
L 310.14 231.776059 
L 310.32 233.371444 
L 310.5 231.335956 
L 310.68 231.846595 
L 310.86 233.590722 
L 311.04 232.264858 
L 311.22 232.468339 
L 311.58 233.403407 
L 311.94 230.589193 
L 312.12 233.430108 
L 312.3 232.646975 
L 312.48 233.640286 
L 312.66 235.878437 
L 313.02 230.953584 
L 313.2 231.86372 
L 313.38 235.374432 
L 313.56 231.371142 
L 313.74 231.656374 
L 313.92 235.791787 
L 314.1 232.784428 
L 314.46 235.728865 
L 314.64 235.235976 
L 314.82 229.823047 
L 315 232.92718 
L 315.18 233.742493 
L 315.36 228.556439 
L 315.54 227.953738 
L 315.72 233.651951 
L 315.9 233.237527 
L 316.08 235.9661 
L 316.26 225.633049 
L 316.44 224.352 
L 316.62 237.6 
L 316.98 226.089639 
L 317.16 232.390788 
L 317.34 232.322879 
L 317.52 232.805652 
L 317.7 234.132305 
L 317.88 233.305953 
L 318.42 229.197824 
L 318.6 235.317756 
L 318.78 231.186451 
L 318.96 229.865192 
L 319.14 232.784868 
L 319.32 232.982847 
L 319.5 232.398608 
L 319.68 234.479043 
L 320.22 229.056882 
L 320.4 229.336121 
L 320.58 231.871281 
L 320.94 229.751981 
L 321.12 234.045187 
L 321.3 231.766729 
L 321.66 234.143106 
L 321.84 229.541377 
L 322.02 234.719529 
L 322.38 231.243393 
L 322.56 232.124447 
L 322.74 230.753529 
L 322.92 231.369371 
L 323.1 232.829715 
L 323.28 230.744947 
L 323.46 232.066782 
L 323.64 231.282674 
L 323.82 233.690702 
L 324 231.163349 
L 324.18 233.445337 
L 324.36 230.278386 
L 324.54 232.184656 
L 324.72 232.360285 
L 324.9 232.116707 
L 325.08 232.588153 
L 325.26 233.826934 
L 325.44 232.642605 
L 325.62 233.68141 
L 325.8 233.369791 
L 325.98 231.656533 
L 326.16 232.032909 
L 326.34 231.671289 
L 326.52 233.472872 
L 326.7 231.645694 
L 326.88 233.63822 
L 327.24 232.585914 
L 327.42 232.896647 
L 327.6 232.840925 
L 327.78 233.015411 
L 327.96 232.853517 
L 328.14 232.392665 
L 328.32 233.522208 
L 328.5 232.989716 
L 328.68 233.632204 
L 328.86 232.187693 
L 329.04 233.477271 
L 329.22 232.983029 
L 329.4 233.050979 
L 329.58 233.383284 
L 329.76 232.276456 
L 329.94 232.444515 
L 330.12 232.887007 
L 330.48 232.306867 
L 330.84 232.975207 
L 331.02 232.956372 
L 331.2 232.40016 
L 331.56 233.049818 
L 331.92 232.860084 
L 332.1 233.057775 
L 332.28 232.689527 
L 332.46 232.577579 
L 332.64 232.827852 
L 333 232.796477 
L 333.18 232.971524 
L 333.36 232.853231 
L 333.54 232.589198 
L 333.72 232.838725 
L 333.9 232.588596 
L 334.08 232.805187 
L 334.26 232.775923 
L 334.44 232.561239 
L 334.98 232.696839 
L 335.16 232.616917 
L 335.52 232.963379 
L 335.7 232.576712 
L 335.88 232.889149 
L 336.24 232.675854 
L 336.6 232.956922 
L 336.96 232.957035 
L 337.14 232.61297 
L 337.32 232.564799 
L 337.5 232.877462 
L 337.68 232.88426 
L 337.86 232.623194 
L 338.22 232.832823 
L 338.58 232.631525 
L 338.94 232.67898 
L 339.12 232.563242 
L 339.66 232.844716 
L 340.02 232.844344 
L 340.2 232.683225 
L 340.38 232.809909 
L 340.56 232.61059 
L 340.92 232.954308 
L 341.46 232.799393 
L 341.64 232.879057 
L 342 232.667633 
L 342.18 232.885167 
L 342.36 232.775761 
L 342.54 232.945845 
L 343.08 232.576152 
L 343.26 232.651988 
L 343.44 232.858746 
L 343.62 232.742323 
L 343.8 232.944311 
L 344.34 232.661552 
L 344.88 232.779835 
L 345.06 232.594964 
L 345.24 232.798872 
L 345.42 232.737039 
L 345.6 232.922464 
L 345.78 232.927136 
L 345.96 232.682395 
L 346.14 232.638538 
L 346.86 232.958517 
L 347.04 232.927178 
L 347.22 232.722726 
L 347.76 232.919711 
L 347.94 232.603164 
L 348.12 232.893335 
L 348.48 232.60387 
L 348.66 232.959727 
L 348.84 232.70154 
L 349.02 232.864579 
L 349.38 232.678228 
L 349.56 232.780838 
L 349.92 232.659216 
L 350.1 232.580632 
L 350.46 232.933243 
L 350.64 232.562 
L 351.18 232.802797 
L 351.36 232.61191 
L 351.72 232.643643 
L 352.08 232.61178 
L 352.26 232.611139 
L 352.62 232.868714 
L 352.8 232.768458 
L 353.34 232.872919 
L 353.52 232.599952 
L 353.7 232.570746 
L 353.88 232.931884 
L 354.06 232.664225 
L 354.24 232.904778 
L 354.42 232.629645 
L 354.6 232.910723 
L 354.96 232.571516 
L 355.14 232.953672 
L 355.32 232.606488 
L 355.5 232.569397 
L 355.68 232.878121 
L 356.04 232.572572 
L 356.22 232.564812 
L 356.4 232.721263 
L 356.58 232.601715 
L 357.12 232.935679 
L 357.3 232.675861 
L 357.66 232.837574 
L 357.84 232.87293 
L 358.02 232.754334 
L 358.2 232.871257 
L 358.38 232.741538 
L 358.56 232.851989 
L 358.92 232.742275 
L 359.1 232.90124 
L 359.28 232.682472 
L 359.64 232.748873 
L 359.82 232.583937 
L 360 232.79116 
L 360.18 232.56945 
L 360.36 232.898008 
L 360.54 232.695873 
L 360.72 232.906051 
L 360.9 232.61816 
L 361.08 232.838672 
L 361.44 232.78022 
L 361.62 232.911972 
L 361.8 232.593661 
L 361.98 232.915821 
L 362.16 232.668676 
L 362.34 232.658273 
L 362.52 232.824905 
L 362.88 232.611808 
L 363.24 232.897958 
L 363.42 232.563409 
L 363.6 232.715045 
L 363.78 232.628974 
L 363.96 232.832629 
L 364.14 232.862604 
L 364.32 232.614401 
L 364.5 232.884212 
L 364.68 232.679802 
L 364.86 232.847474 
L 365.04 232.609342 
L 365.4 232.808367 
L 365.58 232.749231 
L 366.12 232.914147 
L 366.48 232.627023 
L 366.66 232.852381 
L 366.84 232.721182 
L 367.2 232.821782 
L 367.38 232.896782 
L 367.74 232.646975 
L 368.28 232.775883 
L 368.46 232.633178 
L 368.64 232.871204 
L 369.18 232.63729 
L 369.36 232.745132 
L 369.72 232.68609 
L 370.26 232.699875 
L 370.44 232.897414 
L 370.62 232.841288 
L 370.8 232.927139 
L 371.16 232.720879 
L 371.34 232.70677 
L 371.52 232.573767 
L 371.7 232.822703 
L 372.06 232.568449 
L 372.24 232.899698 
L 372.42 232.647921 
L 372.6 232.59474 
L 372.78 232.834189 
L 373.32 232.788268 
L 373.5 232.569704 
L 373.86 232.915247 
L 374.22 232.66951 
L 374.58 232.793129 
L 374.76 232.669635 
L 375.12 232.869577 
L 375.3 232.568916 
L 375.48 232.596898 
L 375.66 232.743745 
L 375.84 232.581619 
L 376.02 232.631791 
L 376.2 232.879582 
L 376.56 232.868085 
L 376.74 232.620108 
L 376.92 232.85355 
L 377.1 232.772355 
L 377.28 232.922738 
L 377.46 232.662911 
L 377.64 232.888052 
L 377.82 232.565873 
L 378 232.640697 
L 378.18 232.888506 
L 378.54 232.635601 
L 378.72 232.813686 
L 378.9 232.675314 
L 379.08 232.773219 
L 379.62 232.58309 
L 379.8 232.889576 
L 379.98 232.873166 
L 380.34 232.646479 
L 380.52 232.607906 
L 380.7 232.90421 
L 381.06 232.562766 
L 381.42 232.831489 
L 381.6 232.668845 
L 381.78 232.910658 
L 381.96 231.12 
L 382.14 234 
L 382.32 232.775575 
L 382.68 232.691748 
L 383.04 232.890622 
L 383.4 232.818225 
L 383.58 232.662744 
L 383.94 232.623165 
L 384.12 232.870252 
L 384.66 232.584803 
L 384.84 232.859694 
L 385.02 232.611124 
L 385.38 232.889667 
L 385.56 232.685867 
L 385.74 232.721023 
L 385.92 232.892136 
L 386.1 232.664458 
L 386.46 232.693733 
L 386.82 232.711011 
L 387 232.906771 
L 387.18 232.841638 
L 387.36 232.574256 
L 387.54 232.772682 
L 387.72 232.564101 
L 387.9 232.587298 
L 388.08 232.763131 
L 388.26 232.775994 
L 388.44 232.619308 
L 388.98 232.804207 
L 389.34 232.69322 
L 389.52 232.845739 
L 389.7 232.791227 
L 389.88 232.598274 
L 390.06 232.746443 
L 390.42 232.653053 
L 390.78 232.857831 
L 390.96 232.683425 
L 391.14 232.739321 
L 391.32 232.586821 
L 391.5 232.825646 
L 391.68 232.619457 
L 392.22 232.737658 
L 392.4 232.662392 
L 392.58 232.719939 
L 392.76 231.48 
L 392.94 233.856 
L 393.12 232.794727 
L 393.3 232.740974 
L 393.66 232.865089 
L 394.02 232.571124 
L 394.2 232.82004 
L 394.38 232.715518 
L 394.74 232.848729 
L 394.92 232.58598 
L 395.28 232.809905 
L 395.64 232.712066 
L 395.82 232.721095 
L 396 232.892475 
L 396.18 232.640645 
L 396.36 232.6148 
L 396.54 232.817478 
L 396.72 232.841441 
L 396.9 232.575286 
L 397.26 232.846733 
L 397.44 232.800003 
L 397.62 232.6092 
L 398.52 232.732549 
L 398.7 231.84 
L 398.88 233.856 
L 399.06 232.72263 
L 399.24 232.871414 
L 399.42 232.610672 
L 399.78 232.728912 
L 399.96 232.873241 
L 400.32 232.629531 
L 400.5 232.749463 
L 400.86 232.597781 
L 401.04 232.766731 
L 401.22 232.70271 
L 401.4 232.873716 
L 401.76 232.610048 
L 402.12 232.716596 
L 402.48 232.698341 
L 402.84 232.809414 
L 403.38 232.597226 
L 403.56 232.7771 
L 403.74 232.635183 
L 404.1 232.869371 
L 404.28 232.836735 
L 404.46 232.64908 
L 405 232.8084 
L 405.36 232.673549 
L 406.08 232.857718 
L 406.98 232.78627 
L 407.34 232.787626 
L 407.7 232.611844 
L 408.06 232.849233 
L 408.24 232.706235 
L 408.42 232.835844 
L 408.78 232.644182 
L 408.96 232.87056 
L 409.14 232.795468 
L 409.32 232.869781 
L 409.5 232.752768 
L 409.68 232.794641 
L 409.86 232.646554 
L 410.04 232.726652 
L 410.22 232.681037 
L 410.58 232.856296 
L 410.94 232.562103 
L 411.48 232.808129 
L 411.84 232.622646 
L 412.2 232.834023 
L 412.38 232.721945 
L 412.56 232.823005 
L 412.92 232.579389 
L 413.1 232.862492 
L 413.28 232.573756 
L 413.82 232.811998 
L 414 232.626291 
L 414.18 232.82906 
L 414.36 232.777351 
L 414.54 232.58751 
L 414.9 232.833528 
L 415.08 232.697676 
L 415.26 232.825602 
L 415.44 232.623869 
L 415.62 232.827781 
L 415.8 232.773881 
L 415.98 232.567964 
L 416.16 232.592137 
L 416.52 232.816149 
L 416.88 232.641222 
L 417.06 232.85667 
L 417.42 232.862906 
L 417.6 232.613332 
L 417.78 232.714471 
L 417.96 232.589473 
L 418.14 232.765767 
L 418.68 232.606114 
L 418.86 232.83478 
L 420.12 232.790012 
L 420.3 232.619253 
L 420.84 232.796002 
L 421.02 232.573735 
L 421.2 232.750988 
L 421.38 232.586439 
L 421.56 232.721442 
L 421.74 232.62618 
L 421.92 232.850573 
L 422.1 232.599727 
L 422.46 232.622383 
L 423.36 232.713738 
L 423.54 232.574126 
L 423.72 232.839122 
L 424.08 232.576234 
L 424.26 232.719511 
L 424.62 232.590879 
L 424.8 232.787857 
L 425.16 232.764722 
L 425.34 232.693645 
L 425.52 232.801586 
L 425.7 232.56665 
L 426.06 232.729797 
L 426.24 232.615792 
L 426.42 232.75168 
L 426.6 232.700519 
L 426.96 232.844699 
L 427.14 232.576271 
L 427.32 232.773185 
L 427.5 232.577482 
L 427.68 232.714842 
L 428.04 232.697602 
L 428.22 232.856662 
L 428.4 232.705923 
L 428.76 233.151325 
L 428.94 233.240007 
L 428.94 233.240007 
" clip-path="url(#p756bfa02b4)" style="fill: none; stroke: #1f77b4; stroke-width: 1.5; stroke-linecap: square"/>
   </g>
   <g id="line2d_16">
    <path d="M 51.12 231.841702 
L 51.3 231.904867 
L 51.48 231.788759 
L 51.66 231.904606 
L 52.02 231.828959 
L 52.2 231.887189 
L 52.74 231.771969 
L 52.92 231.876506 
L 54 231.787302 
L 54.72 231.876053 
L 55.08 231.837868 
L 55.44 231.906479 
L 56.16 231.791134 
L 56.34 231.907669 
L 56.7 231.784685 
L 57.06 231.879842 
L 58.14 231.776978 
L 58.5 231.890779 
L 59.22 231.841367 
L 83.34 231.809107 
L 83.52 230.976 
L 83.88 230.976 
L 84.06 232.704 
L 84.24 231.770423 
L 84.96 231.890262 
L 85.68 231.820228 
L 85.86 231.877554 
L 86.04 231.771814 
L 86.58 231.836699 
L 86.94 231.800041 
L 87.48 231.881998 
L 88.38 231.809417 
L 88.56 231.880718 
L 88.92 231.77883 
L 89.1 231.906652 
L 89.46 231.879441 
L 90.18 231.794898 
L 90.54 231.850161 
L 90.72 231.790832 
L 90.9 231.905092 
L 91.08 231.790227 
L 91.62 231.871302 
L 92.16 231.774622 
L 93.96 231.90318 
L 94.14 231.771257 
L 96.12 231.855337 
L 96.3 231.772903 
L 96.66 231.866669 
L 97.02 231.823535 
L 97.38 231.779788 
L 98.28 231.813599 
L 98.46 231.771091 
L 98.64 231.886976 
L 99 231.781391 
L 99.18 231.906698 
L 100.08 231.816844 
L 100.26 231.89392 
L 100.62 231.779814 
L 100.8 231.90146 
L 101.7 231.781261 
L 102.06 231.856759 
L 102.24 231.77262 
L 102.6 231.881298 
L 103.14 231.867772 
L 103.5 231.77144 
L 103.68 231.777441 
L 103.86 231.906882 
L 104.4 231.818311 
L 104.58 231.876752 
L 104.94 231.791934 
L 106.56 231.888596 
L 106.74 231.776046 
L 107.28 231.857326 
L 107.64 231.825498 
L 107.82 231.904369 
L 108.72 231.798441 
L 108.9 231.787846 
L 109.08 231.90966 
L 109.26 231.768396 
L 109.8 231.860162 
L 110.16 231.777851 
L 121.68 231.885277 
L 121.86 232.031438 
L 122.22 231.876135 
L 122.4 232.009102 
L 122.76 231.879401 
L 122.94 231.886237 
L 123.12 232.070342 
L 123.48 231.99859 
L 123.66 231.897387 
L 123.84 232.028396 
L 124.02 231.885361 
L 124.92 232.148326 
L 125.1 231.887679 
L 125.28 232.040503 
L 125.46 231.847851 
L 125.82 231.912665 
L 126 232.197007 
L 126.18 232.101513 
L 126.36 232.152494 
L 126.54 231.857814 
L 126.72 232.085318 
L 127.08 231.989911 
L 127.26 232.094972 
L 127.44 231.950995 
L 127.62 232.024848 
L 127.8 231.933861 
L 128.16 232.031997 
L 128.34 231.896837 
L 129.6 232.153152 
L 129.78 231.911046 
L 129.96 231.87747 
L 130.14 231.981741 
L 130.32 231.889388 
L 130.68 232.046512 
L 130.86 231.887374 
L 131.04 232.097779 
L 131.4 231.992346 
L 131.58 232.170293 
L 131.76 232.148128 
L 131.94 231.919549 
L 132.12 231.89997 
L 132.3 232.169593 
L 132.48 231.896611 
L 132.66 232.112594 
L 132.84 231.952506 
L 133.2 232.039341 
L 133.38 232.173347 
L 133.56 231.84074 
L 133.74 231.898423 
L 133.92 232.099276 
L 134.28 231.943612 
L 134.46 232.186642 
L 134.64 231.93505 
L 135 232.187121 
L 135.36 232.095389 
L 135.72 232.129881 
L 135.9 231.937637 
L 136.26 232.129039 
L 136.8 232.165403 
L 136.98 231.875148 
L 137.52 232.161007 
L 137.88 231.935368 
L 138.06 231.847149 
L 138.42 232.121061 
L 138.6 231.847262 
L 139.5 232.15775 
L 139.68 231.914692 
L 140.22 232.174659 
L 140.4 232.154453 
L 140.58 231.888788 
L 140.76 232.125048 
L 141.12 231.991777 
L 141.3 231.849204 
L 141.48 231.900473 
L 141.66 232.109806 
L 141.84 231.870242 
L 142.38 232.108596 
L 142.74 231.871388 
L 143.28 232.098128 
L 143.46 231.955244 
L 143.64 232.089702 
L 143.82 232.033894 
L 144 232.159584 
L 144.72 232.009699 
L 144.9 232.153813 
L 145.08 231.889693 
L 145.44 232.032568 
L 146.16 231.98893 
L 146.34 232.087253 
L 146.52 231.958556 
L 146.88 232.102281 
L 147.06 231.887033 
L 147.24 231.957523 
L 147.42 232.180094 
L 147.78 232.19726 
L 147.96 231.855309 
L 148.14 232.137543 
L 148.5 232.1647 
L 148.86 232.083223 
L 149.4 232.123831 
L 149.94 231.873966 
L 150.12 232.166972 
L 150.3 232.111756 
L 150.48 231.903807 
L 150.66 232.136085 
L 150.84 231.948125 
L 151.02 232.068836 
L 151.38 231.917099 
L 152.28 231.872371 
L 152.46 232.140251 
L 152.82 231.88629 
L 153.18 232.035347 
L 153.72 231.996383 
L 153.9 232.153508 
L 154.08 231.978145 
L 154.44 232.174887 
L 154.62 231.923809 
L 154.8 232.101183 
L 154.98 232.014183 
L 155.16 232.123452 
L 155.34 231.969482 
L 155.52 232.035249 
L 155.7 231.972583 
L 155.88 232.151814 
L 156.06 232.169334 
L 156.24 232.067456 
L 156.42 232.193167 
L 156.6 232.10354 
L 156.96 232.162099 
L 157.14 231.937886 
L 157.32 232.195204 
L 157.5 231.980549 
L 157.68 232.018997 
L 157.86 231.904917 
L 158.04 232.135732 
L 158.22 231.961283 
L 158.4 232.088164 
L 158.58 231.918608 
L 158.94 231.978328 
L 159.3 231.852623 
L 159.48 232.117275 
L 159.66 232.182128 
L 159.84 231.921449 
L 160.38 231.869796 
L 160.56 232.073904 
L 160.74 231.972679 
L 161.46 232.171804 
L 161.64 232.176621 
L 162.18 231.853541 
L 162.36 231.876879 
L 162.72 232.148163 
L 163.08 231.811477 
L 163.26 231.882893 
L 163.44 232.108307 
L 163.62 231.836288 
L 163.98 231.873771 
L 164.34 232.141604 
L 164.52 231.808203 
L 164.7 232.009503 
L 165.24 231.985217 
L 165.42 232.127895 
L 165.6 231.740932 
L 165.78 231.916158 
L 165.96 231.636978 
L 166.32 232.109526 
L 166.5 232.261936 
L 166.86 231.724571 
L 167.04 231.938967 
L 167.4 231.573719 
L 167.76 232.1273 
L 168.12 232.281073 
L 168.3 231.782821 
L 168.66 231.572258 
L 169.02 232.159113 
L 169.2 231.678509 
L 169.38 232.202556 
L 169.56 232.088535 
L 169.74 231.65271 
L 170.1 232.191903 
L 170.28 232.294396 
L 170.46 231.622343 
L 170.64 232.205017 
L 170.82 232.16779 
L 171 231.697156 
L 171.18 231.743798 
L 171.36 232.341376 
L 171.54 231.807444 
L 171.72 231.742679 
L 171.9 232.13773 
L 172.08 231.602008 
L 172.26 231.925724 
L 172.44 231.811989 
L 172.8 232.044642 
L 172.98 232.039902 
L 173.16 231.802509 
L 173.34 232.199116 
L 173.52 232.112277 
L 173.7 232.170624 
L 173.88 231.651447 
L 174.06 231.894356 
L 174.42 231.358522 
L 174.78 231.964097 
L 174.96 231.779697 
L 175.14 231.195317 
L 175.32 231.092248 
L 175.5 231.631432 
L 175.68 231.521539 
L 175.86 231.628598 
L 176.04 230.746852 
L 176.22 231.498165 
L 176.58 230.646215 
L 176.76 230.652488 
L 176.94 231.41162 
L 177.12 231.301962 
L 177.3 230.063057 
L 177.48 230.29496 
L 177.66 230.784606 
L 177.84 229.730868 
L 178.2 229.882874 
L 178.38 231.226853 
L 178.56 230.478632 
L 178.74 230.533859 
L 178.92 231.398777 
L 179.1 230.691514 
L 179.28 231.496009 
L 179.46 230.939017 
L 179.64 230.890535 
L 179.82 231.133448 
L 180.18 230.700621 
L 180.36 232.318616 
L 180.54 232.411899 
L 180.72 231.689016 
L 181.08 232.766629 
L 181.26 231.936248 
L 181.44 232.724635 
L 181.62 232.945625 
L 181.8 231.677614 
L 181.98 231.929239 
L 182.16 233.334689 
L 182.34 233.373746 
L 182.52 232.410173 
L 182.7 233.894538 
L 182.88 233.973114 
L 183.06 233.107742 
L 183.24 233.252884 
L 183.42 232.88784 
L 183.6 233.738244 
L 183.78 233.123115 
L 183.96 234.150306 
L 184.14 234.420441 
L 184.32 234.430618 
L 184.5 233.4852 
L 184.68 234.709883 
L 184.86 235.06981 
L 185.04 233.956869 
L 185.4 235.485872 
L 185.58 234.383797 
L 185.76 235.852354 
L 185.94 236.05355 
L 186.12 235.663984 
L 186.3 236.052785 
L 186.48 235.065209 
L 186.84 236.246605 
L 187.02 234.725292 
L 187.2 236.070685 
L 187.38 235.094031 
L 187.56 236.046643 
L 187.74 235.829081 
L 187.92 236.279129 
L 188.1 235.198173 
L 188.28 235.305141 
L 188.46 237.102576 
L 188.64 126.36 
L 189.36 126.36 
L 189.54 241.92 
L 189.72 227.903573 
L 189.9 233.866202 
L 190.08 233.554449 
L 190.26 222.770649 
L 190.44 222.59887 
L 190.62 226.482417 
L 190.8 233.877625 
L 190.98 232.166047 
L 191.16 227.215056 
L 191.34 232.982052 
L 191.52 226.244557 
L 191.7 226.847319 
L 191.88 225.15431 
L 192.06 233.90859 
L 192.24 232.119211 
L 192.6 226.583908 
L 192.78 233.678507 
L 192.96 228.679952 
L 193.14 227.535679 
L 193.5 232.053513 
L 193.68 232.555314 
L 193.86 228.947948 
L 194.04 233.727491 
L 194.22 232.07794 
L 194.4 229.004981 
L 194.58 232.217725 
L 194.76 232.445367 
L 194.94 231.576951 
L 195.12 228.275226 
L 195.3 229.947964 
L 195.48 230.328923 
L 195.66 231.227276 
L 196.02 228.898774 
L 196.2 231.132484 
L 196.38 231.097062 
L 196.74 229.261849 
L 196.92 231.333338 
L 197.1 231.369015 
L 197.28 232.244058 
L 197.46 229.880186 
L 197.64 231.294224 
L 198 230.73604 
L 198.18 232.961836 
L 198.54 231.075613 
L 198.72 231.601057 
L 198.9 234.249961 
L 199.08 233.73384 
L 199.26 232.472891 
L 199.44 234.512802 
L 199.62 232.528579 
L 199.8 234.865824 
L 199.98 235.013262 
L 200.16 232.582545 
L 200.52 235.970525 
L 200.7 236.331354 
L 200.88 236.32866 
L 201.06 237.256846 
L 201.24 236.861445 
L 201.42 237.720017 
L 201.78 234.322451 
L 202.14 235.722785 
L 202.32 234.89051 
L 202.5 208.368 
L 202.68 208.368 
L 202.86 236.16 
L 203.04 236.570719 
L 203.22 237.933247 
L 203.4 238.050664 
L 203.58 187.56 
L 204.3 187.56 
L 204.48 237.6 
L 204.84 230.774355 
L 205.02 229.974094 
L 205.2 231.439989 
L 205.38 227.915357 
L 205.56 231.938258 
L 205.74 228.065078 
L 205.92 230.095441 
L 206.1 229.881836 
L 206.28 231.033928 
L 206.46 229.09879 
L 206.82 234.610915 
L 207 231.31718 
L 207.18 236.913286 
L 207.36 236.287418 
L 207.72 228.875415 
L 207.9 233.343059 
L 208.08 230.112059 
L 208.44 230.779925 
L 208.62 231.801217 
L 208.8 230.053611 
L 209.16 230.810823 
L 209.34 230.919091 
L 209.52 229.808831 
L 209.7 230.67019 
L 209.88 230.534446 
L 210.06 230.766241 
L 210.24 229.568393 
L 210.42 229.600374 
L 210.6 231.544203 
L 210.78 231.241846 
L 210.96 231.306138 
L 211.32 231.740832 
L 211.5 230.335198 
L 211.68 231.310737 
L 212.04 230.865187 
L 212.22 231.235762 
L 212.4 230.239968 
L 212.58 232.004805 
L 212.94 230.223427 
L 213.12 229.95426 
L 213.3 232.102622 
L 213.48 230.970487 
L 213.66 233.525016 
L 213.84 231.175215 
L 214.02 231.751334 
L 214.2 234.244778 
L 214.38 232.810285 
L 214.56 234.439289 
L 214.74 234.535152 
L 214.92 232.036759 
L 215.1 232.787434 
L 215.28 234.070143 
L 215.46 237.668597 
L 215.64 234.484716 
L 216 236.473814 
L 216.18 235.479709 
L 216.36 240.487772 
L 216.54 233.288234 
L 216.72 235.385423 
L 216.9 242.734606 
L 217.26 239.91325 
L 217.44 84.96 
L 218.16 84.96 
L 218.34 247.896 
L 218.7 241.285368 
L 218.88 241.336621 
L 219.06 239.770652 
L 219.42 232.044509 
L 219.6 211.176 
L 220.32 211.176 
L 220.5 237.816 
L 220.68 230.988995 
L 220.86 231.493383 
L 221.04 230.471829 
L 221.22 231.072585 
L 221.4 232.275182 
L 221.76 231.383788 
L 222.3 232.022655 
L 222.48 232.083888 
L 222.66 231.26994 
L 222.84 231.192319 
L 223.02 231.797425 
L 223.2 231.629127 
L 223.38 231.686109 
L 223.56 231.156498 
L 223.74 231.31376 
L 223.92 231.969104 
L 224.1 231.373785 
L 224.28 231.977318 
L 224.46 230.902527 
L 224.64 232.26971 
L 224.82 231.146606 
L 225.18 232.224379 
L 225.36 231.215261 
L 225.54 231.175805 
L 225.72 232.322289 
L 225.9 232.199498 
L 226.26 230.924265 
L 226.44 231.746259 
L 226.62 231.212386 
L 226.8 231.155584 
L 226.98 232.2414 
L 227.52 230.92674 
L 227.88 232.138343 
L 228.06 231.289647 
L 228.24 231.320065 
L 228.42 231.749566 
L 228.6 231.213237 
L 228.96 231.994248 
L 229.14 231.265451 
L 229.5 231.703316 
L 229.86 231.170111 
L 230.04 231.004976 
L 230.4 232.249393 
L 230.58 230.860374 
L 230.76 232.140883 
L 230.94 232.287259 
L 231.12 231.651998 
L 231.3 232.29544 
L 231.84 231.238102 
L 232.02 231.095518 
L 232.2 231.357066 
L 232.38 230.339135 
L 232.56 231.173758 
L 232.74 230.560322 
L 232.92 230.83423 
L 233.1 231.339488 
L 233.28 229.796844 
L 233.46 230.299963 
L 233.64 230.158098 
L 233.82 229.863605 
L 234 231.053017 
L 234.18 231.158117 
L 234.36 231.839067 
L 234.72 230.651538 
L 234.9 231.626503 
L 235.08 229.524184 
L 235.26 230.066087 
L 235.44 231.161278 
L 235.62 229.741201 
L 235.8 230.454324 
L 235.98 231.86464 
L 236.16 230.775764 
L 236.34 230.716275 
L 236.52 232.397915 
L 236.7 230.725795 
L 236.88 232.610454 
L 237.06 231.633 
L 237.24 231.553617 
L 237.42 232.482273 
L 237.6 232.692244 
L 237.78 234.386973 
L 237.96 234.008115 
L 238.14 233.278619 
L 238.32 233.854013 
L 238.5 233.121163 
L 238.68 235.910955 
L 238.86 233.674627 
L 239.04 236.017948 
L 239.22 235.211394 
L 239.4 236.658498 
L 239.58 234.111874 
L 239.76 234.576154 
L 239.94 234.564901 
L 240.3 238.658892 
L 240.48 238.250578 
L 240.66 236.068098 
L 240.84 239.063344 
L 241.02 238.705352 
L 241.2 237.391535 
L 241.38 235.039339 
L 241.56 235.815205 
L 241.74 240.333878 
L 241.92 236.100201 
L 242.28 242.826222 
L 242.82 235.157378 
L 243 257.76 
L 243.18 257.76 
L 243.36 38.52 
L 244.08 38.52 
L 244.26 258.48 
L 245.34 258.48 
L 245.52 191.736 
L 246.24 191.736 
L 246.42 258.48 
L 246.6 258.48 
L 246.78 237.6 
L 246.96 233.471952 
L 247.14 234.108655 
L 247.32 230.950079 
L 247.5 232.288385 
L 247.68 232.195109 
L 247.86 231.519291 
L 248.04 233.010942 
L 248.22 230.561795 
L 248.4 231.512237 
L 248.58 231.747026 
L 248.76 233.813879 
L 248.94 232.749843 
L 249.12 232.855397 
L 249.3 233.999173 
L 249.48 230.938044 
L 249.66 232.429965 
L 249.84 230.46634 
L 250.02 230.750987 
L 250.2 232.931666 
L 250.38 233.513394 
L 250.56 232.827758 
L 250.74 232.67344 
L 251.1 234.2992 
L 251.28 234.245068 
L 251.46 233.850257 
L 251.64 232.426187 
L 251.82 233.817183 
L 252 231.775976 
L 252.18 234.497533 
L 252.36 232.092748 
L 252.54 234.934823 
L 252.72 232.314666 
L 252.9 232.16577 
L 253.08 232.451857 
L 253.26 233.041162 
L 253.44 231.912795 
L 253.62 232.164344 
L 253.8 234.621577 
L 253.98 234.808026 
L 254.16 231.735304 
L 254.34 232.867751 
L 254.52 232.782592 
L 254.7 234.400025 
L 255.06 232.735845 
L 255.24 234.243235 
L 255.42 233.516398 
L 255.6 231.94907 
L 255.78 234.275812 
L 255.96 232.909647 
L 256.14 234.721539 
L 256.32 233.753529 
L 256.5 231.370562 
L 256.68 234.189343 
L 256.86 233.340814 
L 257.04 233.12956 
L 257.22 198.504 
L 257.94 198.504 
L 258.12 246.744 
L 258.3 227.406398 
L 258.66 229.733987 
L 258.84 228.701206 
L 259.02 229.508641 
L 259.38 231.780546 
L 259.56 226.451459 
L 259.92 230.681078 
L 260.1 227.62918 
L 260.28 232.328334 
L 260.46 230.979202 
L 260.64 230.531412 
L 260.82 230.597473 
L 261.18 230.150116 
L 261.54 231.586753 
L 261.72 231.371179 
L 261.9 230.076172 
L 262.08 230.105935 
L 262.26 230.910494 
L 262.62 231.076852 
L 262.8 231.543259 
L 262.98 231.586125 
L 263.16 231.749501 
L 263.34 230.618525 
L 263.52 230.855266 
L 263.7 231.774877 
L 263.88 231.267036 
L 264.06 230.140971 
L 264.24 231.644449 
L 264.6 230.384033 
L 265.14 231.211063 
L 265.32 230.779311 
L 265.5 231.693831 
L 265.68 231.550905 
L 265.86 232.860933 
L 266.04 232.91081 
L 266.22 231.345261 
L 266.4 231.416893 
L 266.58 233.911801 
L 266.76 233.449047 
L 266.94 234.866894 
L 267.3 232.625132 
L 267.48 232.3265 
L 267.66 235.043146 
L 267.84 232.853148 
L 268.02 235.029076 
L 268.2 234.948757 
L 268.56 236.218009 
L 268.74 233.621477 
L 269.1 235.375623 
L 269.28 233.348489 
L 269.46 232.901242 
L 269.64 232.766727 
L 269.82 235.58266 
L 270 54 
L 270.72 54 
L 270.9 290.448 
L 271.08 230.20852 
L 271.26 231.442518 
L 271.44 230.371276 
L 271.62 233.794809 
L 271.8 231.186951 
L 271.98 233.26278 
L 272.16 233.316875 
L 272.34 233.082739 
L 272.52 230.871264 
L 272.7 231.324782 
L 272.88 231.100332 
L 273.06 228.868754 
L 273.24 232.821353 
L 273.42 229.711122 
L 273.6 231.246027 
L 273.96 231.944562 
L 274.14 231.342349 
L 274.5 231.974589 
L 274.68 231.751566 
L 275.04 231.890983 
L 275.22 231.778571 
L 275.4 231.842667 
L 275.76 231.7898 
L 275.94 231.772105 
L 276.12 231.892739 
L 276.48 231.843043 
L 277.02 231.901389 
L 277.38 231.869151 
L 277.56 231.892957 
L 277.74 231.783436 
L 278.28 231.848203 
L 279 231.791457 
L 279.18 231.893767 
L 279.72 231.806691 
L 280.98 231.810857 
L 286.38 231.829489 
L 286.92 231.819438 
L 287.28 231.777879 
L 287.64 231.906409 
L 288.36 231.861032 
L 289.44 231.839327 
L 289.98 231.874246 
L 290.52 231.798623 
L 292.5 231.893954 
L 292.68 231.796243 
L 292.86 231.909325 
L 293.58 231.77822 
L 293.94 231.858517 
L 294.48 231.842794 
L 294.66 231.791446 
L 294.84 231.873764 
L 295.02 231.768585 
L 295.2 231.863084 
L 295.56 231.790869 
L 295.92 231.901527 
L 296.1 231.946681 
L 296.28 231.676487 
L 296.46 231.850458 
L 296.64 231.70021 
L 296.82 231.318993 
L 297 231.442532 
L 297.18 231.007561 
L 297.36 233.070182 
L 297.54 231.305299 
L 297.72 231.684392 
L 297.9 231.301319 
L 298.08 232.44557 
L 298.26 232.215114 
L 298.44 232.870346 
L 298.62 230.481888 
L 298.8 231.086306 
L 298.98 222.912 
L 299.7 222.912 
L 299.88 237.816 
L 300.06 232.105189 
L 300.24 231.610608 
L 300.42 232.68309 
L 300.6 230.981659 
L 300.78 230.924171 
L 300.96 231.556604 
L 301.14 231.09796 
L 301.5 232.05894 
L 301.68 231.353151 
L 301.86 231.852027 
L 302.22 231.886655 
L 302.4 231.772349 
L 302.76 231.871967 
L 303.12 231.835874 
L 303.48 231.888107 
L 303.66 231.803671 
L 303.84 231.879 
L 304.02 231.829085 
L 304.38 231.894485 
L 304.74 231.819816 
L 305.82 231.871688 
L 306 231.777665 
L 306.36 231.832864 
L 307.26 231.797428 
L 307.44 231.904527 
L 307.98 231.803784 
L 308.34 231.892463 
L 308.52 231.778379 
L 308.7 231.862785 
L 309.06 231.80041 
L 309.24 231.890955 
L 309.42 231.778407 
L 309.6 231.873361 
L 309.78 231.776331 
L 310.14 231.900025 
L 310.32 231.547715 
L 310.5 232.193468 
L 310.68 231.418168 
L 310.86 231.794915 
L 311.04 231.269658 
L 311.22 232.508981 
L 311.4 231.123287 
L 311.58 231.145203 
L 311.76 230.205298 
L 311.94 233.765328 
L 312.12 230.073202 
L 312.48 233.173839 
L 312.66 231.473263 
L 312.84 232.904913 
L 313.02 231.64865 
L 313.2 234.431736 
L 313.38 230.538488 
L 313.56 229.779416 
L 313.74 198.936 
L 314.64 198.936 
L 314.82 248.112 
L 315 231.867917 
L 315.18 231.681548 
L 315.36 230.396549 
L 315.54 234.370728 
L 315.72 231.494979 
L 315.9 233.172132 
L 316.08 232.472694 
L 316.26 235.062923 
L 316.44 231.060424 
L 316.8 233.944014 
L 316.98 230.711837 
L 317.16 234.125139 
L 317.34 232.694117 
L 317.52 230.239003 
L 317.7 234.907507 
L 317.88 168.984 
L 318.42 168.984 
L 318.6 249.48 
L 318.78 230.415294 
L 318.96 233.701547 
L 319.14 233.129158 
L 319.32 231.981804 
L 319.68 233.245854 
L 320.04 231.938236 
L 320.22 232.399001 
L 320.4 232.375133 
L 320.58 232.171894 
L 320.76 231.400582 
L 320.94 231.906646 
L 321.12 231.948125 
L 321.3 232.195057 
L 321.48 231.854023 
L 321.84 231.994918 
L 322.02 231.570349 
L 322.56 231.670153 
L 322.74 231.751974 
L 322.92 231.709935 
L 323.1 231.860832 
L 324.36 231.882657 
L 324.54 231.899134 
L 324.72 231.778414 
L 324.9 231.862896 
L 325.08 231.775673 
L 325.44 231.857843 
L 327.78 231.854028 
L 327.96 231.898739 
L 328.32 231.817757 
L 328.68 231.79809 
L 329.22 231.85782 
L 332.28 231.852501 
L 332.82 231.890311 
L 333 231.80861 
L 333.18 231.906181 
L 333.36 231.79675 
L 334.26 231.867019 
L 334.44 231.769035 
L 334.62 231.909475 
L 334.8 231.812641 
L 335.16 231.901431 
L 336.24 231.88644 
L 336.96 231.818334 
L 337.14 231.909149 
L 337.5 231.794947 
L 337.68 231.864295 
L 337.86 231.792364 
L 338.04 231.908439 
L 338.58 231.771401 
L 338.76 231.854574 
L 339.12 231.775552 
L 339.66 231.887371 
L 339.84 231.786633 
L 340.02 231.89304 
L 340.2 231.82632 
L 340.38 231.890829 
L 340.74 231.774922 
L 341.46 231.886108 
L 341.64 231.895502 
L 341.82 231.780501 
L 342.54 231.835252 
L 342.9 231.796408 
L 343.26 231.833798 
L 343.44 231.903358 
L 343.62 231.790051 
L 343.8 231.895748 
L 343.98 231.81347 
L 344.34 231.889338 
L 344.88 231.859025 
L 345.24 231.880138 
L 345.78 231.790584 
L 346.14 231.800996 
L 367.92 231.865464 
L 368.28 231.798365 
L 368.46 231.896352 
L 369.18 231.78773 
L 370.62 231.905072 
L 370.8 231.774081 
L 371.16 231.874013 
L 371.34 231.793937 
L 371.52 231.891913 
L 371.7 231.785689 
L 371.88 231.884464 
L 372.24 231.82939 
L 373.86 231.831982 
L 374.22 231.859394 
L 374.94 231.769112 
L 375.12 231.910637 
L 375.3 231.835806 
L 375.84 231.887079 
L 376.02 231.782175 
L 376.56 231.911478 
L 376.92 231.778703 
L 377.28 231.861352 
L 377.64 231.798186 
L 378.36 231.910671 
L 379.08 231.783362 
L 379.44 231.882332 
L 380.88 231.80413 
L 381.06 231.902326 
L 381.42 231.848778 
L 381.78 231.864609 
L 382.5 231.782973 
L 383.04 231.86275 
L 386.82 231.854718 
L 387 231.77983 
L 387.18 231.85236 
L 387.36 231.774714 
L 387.9 231.905088 
L 388.26 231.774998 
L 388.44 231.858287 
L 388.98 231.804793 
L 389.16 231.867411 
L 389.34 231.786118 
L 389.88 231.896484 
L 390.24 231.847013 
L 390.42 231.905251 
L 390.6 231.787936 
L 390.96 231.873514 
L 391.32 231.838351 
L 393.3 231.887629 
L 393.48 231.903966 
L 393.66 231.801809 
L 394.2 231.869071 
L 394.38 231.775873 
L 394.74 231.891064 
L 394.92 231.787974 
L 395.28 231.815607 
L 395.64 231.890038 
L 397.44 231.817768 
L 398.16 231.882786 
L 398.88 231.778421 
L 399.24 231.905586 
L 399.42 231.802737 
L 399.96 231.885035 
L 401.22 231.780653 
L 401.58 231.881089 
L 401.76 231.773954 
L 402.12 231.886124 
L 402.3 231.774145 
L 402.48 231.846856 
L 402.66 231.771989 
L 402.84 231.836666 
L 403.02 231.779674 
L 403.2 231.850926 
L 403.56 231.780842 
L 403.74 231.90779 
L 404.82 231.81438 
L 405.18 231.876782 
L 408.6 231.847132 
L 408.96 231.893507 
L 409.14 231.787033 
L 410.04 231.845289 
L 410.58 231.851876 
L 410.94 231.818584 
L 411.84 231.830238 
L 412.2 231.826232 
L 412.56 231.792181 
L 412.74 231.905215 
L 413.1 231.810693 
L 413.46 231.904432 
L 414 231.823665 
L 417.24 231.869956 
L 417.6 231.839804 
L 417.78 231.773412 
L 418.32 231.881867 
L 418.5 231.901587 
L 418.68 231.791217 
L 418.86 231.895572 
L 419.04 231.792862 
L 419.22 231.852995 
L 419.4 231.768672 
L 419.58 231.889679 
L 419.94 231.799206 
L 420.12 231.904248 
L 420.3 231.780359 
L 420.84 231.806039 
L 422.46 231.843858 
L 423 231.800341 
L 423.36 231.868916 
L 423.54 231.786609 
L 423.72 231.842902 
L 424.08 231.79279 
L 425.34 231.866865 
L 426.06 231.77463 
L 426.24 231.901113 
L 426.42 231.82791 
L 426.6 231.896541 
L 426.78 231.802954 
L 427.32 231.895071 
L 427.5 231.800219 
L 428.04 231.873129 
L 428.94 231.167052 
L 428.94 231.167052 
" clip-path="url(#p756bfa02b4)" style="fill: none; stroke: #ff7f0e; stroke-width: 1.5; stroke-linecap: square"/>
   </g>
   <g id="patch_3">
    <path d="M 32.76 304.2 
L 32.76 25.56 
" style="fill: none; stroke: #000000; stroke-width: 0.8; stroke-linejoin: miter; stroke-linecap: square"/>
   </g>
   <g id="patch_4">
    <path d="M 448.2 304.2 
L 448.2 25.56 
" style="fill: none; stroke: #000000; stroke-width: 0.8; stroke-linejoin: miter; stroke-linecap: square"/>
   </g>
   <g id="patch_5">
    <path d="M 32.76 304.2 
L 448.2 304.2 
" style="fill: none; stroke: #000000; stroke-width: 0.8; stroke-linejoin: miter; stroke-linecap: square"/>
   </g>
   <g id="patch_6">
    <path d="M 32.76 25.56 
L 448.2 25.56 
" style="fill: none; stroke: #000000; stroke-width: 0.8; stroke-linejoin: miter; stroke-linecap: square"/>
   </g>
   <g id="text_16">
    <!-- Aligned Signals -->
    <g transform="translate(193.7456 19.7600) scale(0.12 -0.12)">
     <defs>
      <path id="DejaVuSans-41" d="M 2188 4044 
L 1331 1722 
L 3047 1722 
L 2188 4044 
z
M 1831 4666 
L 2547 4666 
L 4325 0 
L 3669 0 
L 3244 1197 
L 1141 1197 
L 716 0 
L 50 0 
L 1831 4666 
z
" transform="scale(0.015625)"/>
      <path id="DejaVuSans-6c" d="M 603 4863 
L 1178 4863 
L 1178 0 
L 603 0 
L 603 4863 
z
" transform="scale(0.015625)"/>
      <path id="DejaVuSans-67" d="M 2906 1791 
Q 2906 2416 2648 2759 
Q 2391 3103 1925 3103 
Q 1463 3103 1205 2759 
Q 947 2416 947 1791 
Q 947 1169 1205 825 
Q 1463 481 1925 481 
Q 2391 481 2648 825 
Q 2906 1169 2906 1791 
z
M 3481 434 
Q 3481 -459 3084 -895 
Q 2688 -1331 1869 -1331 
Q 1566 -1331 1297 -1286 
Q 1028 -1241 775 -1147 
L 775 -588 
Q 1028 -725 1275 -790 
Q 1522 -856 1778 -856 
Q 2344 -856 2625 -561 
Q 2906 -266 2906 331 
L 2906 616 
Q 2728 306 2450 153 
Q 2172 0 1784 0 
Q 1141 0 747 490 
Q 353 981 353 1791 
Q 353 2603 747 3093 
Q 1141 3584 1784 3584 
Q 2172 3584 2450 3431 
Q 2728 3278 2906 2969 
L 2906 3500 
L 3481 3500 
L 3481 434 
z
" transform="scale(0.015625)"/>
      <path id="DejaVuSans-6e" d="M 3513 2113 
L 3513 0 
L 2938 0 
L 2938 2094 
Q 2938 2591 2744 2837 
Q 2550 3084 2163 3084 
Q 1697 3084 1428 2787 
Q 1159 2491 1159 1978 
L 1159 0 
L 581 0 
L 581 3500 
L 1159 3500 
L 1159 2956 
Q 1366 3272 1645 3428 
Q 1925 3584 2291 3584 
Q 2894 3584 3203 3211 
Q 3513 2838 3513 2113 
z
" transform="scale(0.015625)"/>
      <path id="DejaVuSans-64" d="M 2906 2969 
L 2906 4863 
L 3481 4863 
L 3481 0 
L 2906 0 
L 2906 525 
Q 2725 213 2448 61 
Q 2172 -91 1784 -91 
Q 1150 -91 751 415 
Q 353 922 353 1747 
Q 353 2572 751 3078 
Q 1150 3584 1784 3584 
Q 2172 3584 2448 3432 
Q 2725 3281 2906 2969 
z
M 947 1747 
Q 947 1113 1208 752 
Q 1469 391 1925 391 
Q 2381 391 2643 752 
Q 2906 1113 2906 1747 
Q 2906 2381 2643 2742 
Q 2381 3103 1925 3103 
Q 1469 3103 1208 2742 
Q 947 2381 947 1747 
z
" transform="scale(0.015625)"/>
      <path id="DejaVuSans-53" d="M 3425 4513 
L 3425 3897 
Q 3066 4069 2747 4153 
Q 2428 4238 2131 4238 
Q 1616 4238 1336 4038 
Q 1056 3838 1056 3469 
Q 1056 3159 1242 3001 
Q 1428 2844 1947 2747 
L 2328 2669 
Q 3034 2534 3370 2195 
Q 3706 1856 3706 1288 
Q 3706 609 3251 259 
Q 2797 -91 1919 -91 
Q 1588 -91 1214 -16 
Q 841 59 441 206 
L 441 856 
Q 825 641 1194 531 
Q 1563 422 1919 422 
Q 2459 422 2753 634 
Q 3047 847 3047 1241 
Q 3047 1584 2836 1778 
Q 2625 1972 2144 2069 
L 1759 2144 
Q 1053 2284 737 2584 
Q 422 2884 422 3419 
Q 422 4038 858 4394 
Q 1294 4750 2059 4750 
Q 2388 4750 2728 4690 
Q 3069 4631 3425 4513 
z
" transform="scale(0.015625)"/>
      <path id="DejaVuSans-61" d="M 2194 1759 
Q 1497 1759 1228 1600 
Q 959 1441 959 1056 
Q 959 750 1161 570 
Q 1363 391 1709 391 
Q 2188 391 2477 730 
Q 2766 1069 2766 1631 
L 2766 1759 
L 2194 1759 
z
M 3341 1997 
L 3341 0 
L 2766 0 
L 2766 531 
Q 2569 213 2275 61 
Q 1981 -91 1556 -91 
Q 1019 -91 701 211 
Q 384 513 384 1019 
Q 384 1609 779 1909 
Q 1175 2209 1959 2209 
L 2766 2209 
L 2766 2266 
Q 2766 2663 2505 2880 
Q 2244 3097 1772 3097 
Q 1472 3097 1187 3025 
Q 903 2953 641 2809 
L 641 3341 
Q 956 3463 1253 3523 
Q 1550 3584 1831 3584 
Q 2591 3584 2966 3190 
Q 3341 2797 3341 1997 
z
" transform="scale(0.015625)"/>
     </defs>
     <use href="#DejaVuSans-41"/>
     <use href="#DejaVuSans-6c" transform="translate(68.408203 0)"/>
     <use href="#DejaVuSans-69" transform="translate(96.191406 0)"/>
     <use href="#DejaVuSans-67" transform="translate(123.974609 0)"/>
     <use href="#DejaVuSans-6e" transform="translate(187.451172 0)"/>
     <use href="#DejaVuSans-65" transform="translate(250.830078 0)"/>
     <use href="#DejaVuSans-64" transform="translate(312.353516 0)"/>
     <use href="#DejaVuSans-20" transform="translate(375.830078 0)"/>
     <use href="#DejaVuSans-53" transform="translate(407.617188 0)"/>
     <use href="#DejaVuSans-69" transform="translate(471.09375 0)"/>
     <use href="#DejaVuSans-67" transform="translate(498.876953 0)"/>
     <use href="#DejaVuSans-6e" transform="translate(562.353516 0)"/>
     <use href="#DejaVuSans-61" transform="translate(625.732422 0)"/>
     <use href="#DejaVuSans-6c" transform="translate(687.011719 0)"/>
     <use href="#DejaVuSans-73" transform="translate(714.794922 0)"/>
    </g>
   </g>
  </g>
 </g>
 <defs>
  <clipPath id="p756bfa02b4">
   <rect x="32.76" y="25.56" width="415.44" height="278.64"/>
  </clipPath>
 </defs>
</svg>

</body></html>
